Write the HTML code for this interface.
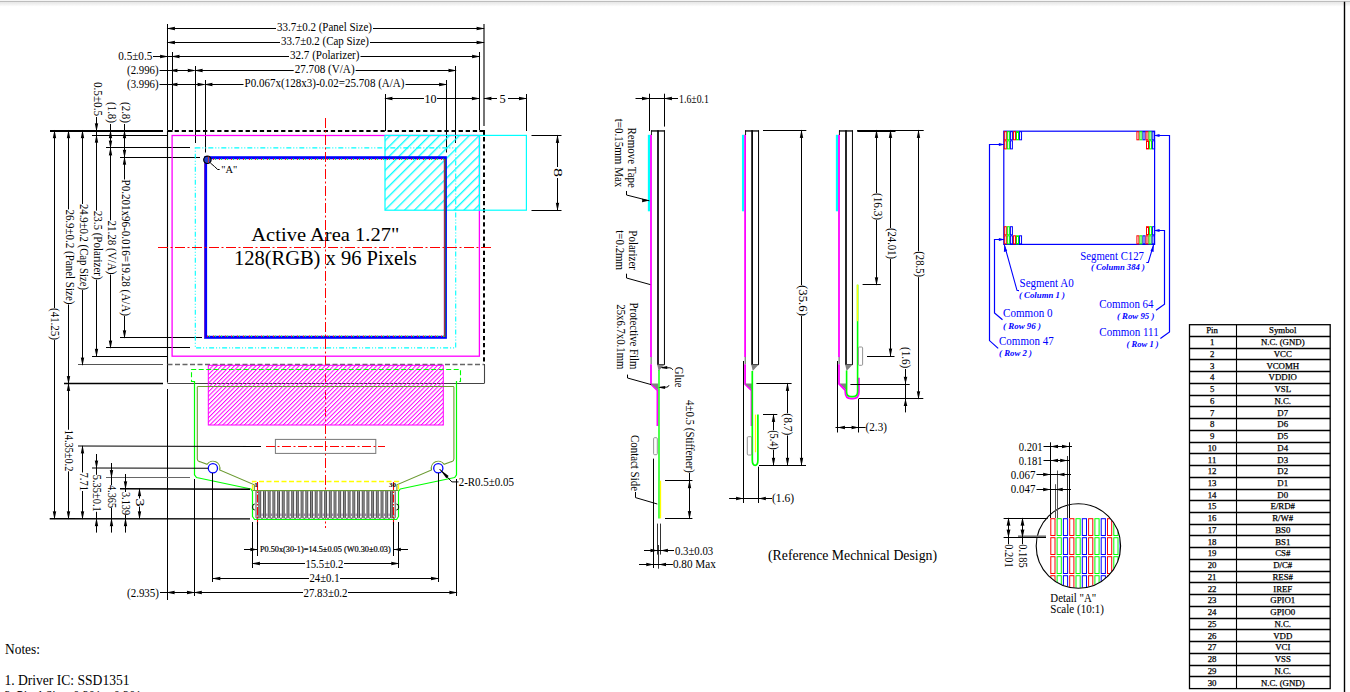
<!DOCTYPE html>
<html><head><meta charset="utf-8"><style>
html,body{margin:0;padding:0;background:#fff;width:1350px;height:692px;overflow:hidden}
svg{display:block;position:absolute;left:0;top:0}
</style></head><body>
<svg width="1350" height="692" viewBox="0 0 1350 692">
<defs>
<pattern id="hm" patternUnits="userSpaceOnUse" width="3.05" height="6" patternTransform="rotate(45)"><line x1="0.5" y1="0" x2="0.5" y2="6" stroke="#ff00ff" stroke-width="1.0"/></pattern>
<pattern id="hc" patternUnits="userSpaceOnUse" width="7" height="7" patternTransform="rotate(45)"><line x1="0.7" y1="0" x2="0.7" y2="7" stroke="#00ffff" stroke-width="1.3"/></pattern>
<clipPath id="detclip"><circle cx="1078.4" cy="546" r="42"/></clipPath>
</defs>
<defs><linearGradient id="tg" x1="0" y1="0" x2="0" y2="1"><stop offset="0" stop-color="#e6e6e6"/><stop offset="1" stop-color="#ffffff"/></linearGradient></defs>
<rect x="0" y="0" width="1350" height="1" fill="#f4f4f4"/>
<rect x="0" y="1" width="1350" height="1.2" fill="#bdbdbd"/>
<rect x="0" y="2.2" width="1350" height="4.5" fill="url(#tg)"/>
<line x1="1344.50" y1="1.80" x2="1344.50" y2="692.00" stroke="#000" stroke-width="1.4" stroke-linecap="butt"/>
<line x1="167.50" y1="24.00" x2="167.50" y2="130.00" stroke="#000" stroke-width="1.05" stroke-linecap="butt"/>
<line x1="484.00" y1="24.00" x2="484.00" y2="126.00" stroke="#000" stroke-width="1.1" stroke-linecap="butt"/>
<line x1="172.50" y1="52.00" x2="172.50" y2="130.00" stroke="#000" stroke-width="1.05" stroke-linecap="butt"/>
<line x1="479.50" y1="52.00" x2="479.50" y2="130.00" stroke="#000" stroke-width="1.05" stroke-linecap="butt"/>
<line x1="195.50" y1="66.00" x2="195.50" y2="143.00" stroke="#000" stroke-width="1.05" stroke-linecap="butt"/>
<line x1="455.50" y1="66.00" x2="455.50" y2="143.00" stroke="#000" stroke-width="1.05" stroke-linecap="butt"/>
<line x1="205.50" y1="80.00" x2="205.50" y2="152.50" stroke="#000" stroke-width="1.05" stroke-linecap="butt"/>
<line x1="446.50" y1="80.00" x2="446.50" y2="152.50" stroke="#000" stroke-width="1.05" stroke-linecap="butt"/>
<line x1="167.50" y1="28.50" x2="276.00" y2="28.50" stroke="#000" stroke-width="1.05" stroke-linecap="butt"/>
<line x1="373.00" y1="28.50" x2="484.00" y2="28.50" stroke="#000" stroke-width="1.05" stroke-linecap="butt"/>
<text x="324.50" y="30.90" font-family="Liberation Serif, serif" font-size="12.4" fill="#000" text-anchor="middle" textLength="95" lengthAdjust="spacingAndGlyphs">33.7±0.2 (Panel Size)</text>
<polygon points="166.50,28.50 175.00,26.80 174.75,28.50 175.00,30.20" fill="#000"/>
<polygon points="485.00,28.50 476.50,26.80 476.75,28.50 476.50,30.20" fill="#000"/>
<line x1="167.50" y1="42.50" x2="280.00" y2="42.50" stroke="#000" stroke-width="1.05" stroke-linecap="butt"/>
<line x1="370.00" y1="42.50" x2="484.00" y2="42.50" stroke="#000" stroke-width="1.05" stroke-linecap="butt"/>
<text x="325.00" y="44.90" font-family="Liberation Serif, serif" font-size="12.4" fill="#000" text-anchor="middle" textLength="88" lengthAdjust="spacingAndGlyphs">33.7±0.2 (Cap Size)</text>
<polygon points="166.50,42.50 175.00,40.80 174.75,42.50 175.00,44.20" fill="#000"/>
<polygon points="485.00,42.50 476.50,40.80 476.75,42.50 476.50,44.20" fill="#000"/>
<line x1="172.10" y1="56.50" x2="289.00" y2="56.50" stroke="#000" stroke-width="1.05" stroke-linecap="butt"/>
<line x1="360.50" y1="56.50" x2="479.50" y2="56.50" stroke="#000" stroke-width="1.05" stroke-linecap="butt"/>
<text x="324.75" y="58.90" font-family="Liberation Serif, serif" font-size="12.4" fill="#000" text-anchor="middle" textLength="69.5" lengthAdjust="spacingAndGlyphs">32.7 (Polarizer)</text>
<polygon points="171.10,56.50 179.60,54.80 179.34,56.50 179.60,58.20" fill="#000"/>
<polygon points="480.50,56.50 472.00,54.80 472.25,56.50 472.00,58.20" fill="#000"/>
<line x1="153.00" y1="56.50" x2="172.10" y2="56.50" stroke="#000" stroke-width="1.05" stroke-linecap="butt"/>
<polygon points="168.50,56.50 160.00,54.80 160.25,56.50 160.00,58.20" fill="#000"/>
<text x="135.30" y="60.20" font-family="Liberation Serif, serif" font-size="12.4" fill="#000" text-anchor="middle" textLength="34" lengthAdjust="spacingAndGlyphs">0.5±0.5</text>
<line x1="195.20" y1="70.50" x2="293.70" y2="70.50" stroke="#000" stroke-width="1.05" stroke-linecap="butt"/>
<line x1="355.60" y1="70.50" x2="455.90" y2="70.50" stroke="#000" stroke-width="1.05" stroke-linecap="butt"/>
<text x="324.65" y="72.90" font-family="Liberation Serif, serif" font-size="12.4" fill="#000" text-anchor="middle" textLength="59.900000000000034" lengthAdjust="spacingAndGlyphs">27.708 (V/A)</text>
<polygon points="194.20,70.50 202.70,68.80 202.44,70.50 202.70,72.20" fill="#000"/>
<polygon points="456.90,70.50 448.40,68.80 448.65,70.50 448.40,72.20" fill="#000"/>
<line x1="159.50" y1="70.50" x2="188.20" y2="70.50" stroke="#000" stroke-width="1.05" stroke-linecap="butt"/>
<polygon points="169.00,70.50 177.50,68.80 177.25,70.50 177.50,72.20" fill="#000"/>
<polygon points="196.20,70.50 187.70,68.80 187.95,70.50 187.70,72.20" fill="#000"/>
<text x="142.80" y="74.20" font-family="Liberation Serif, serif" font-size="12.4" fill="#000" text-anchor="middle" textLength="31.5" lengthAdjust="spacingAndGlyphs">(2.996)</text>
<line x1="205.00" y1="84.50" x2="243.50" y2="84.50" stroke="#000" stroke-width="1.05" stroke-linecap="butt"/>
<line x1="405.50" y1="84.50" x2="446.50" y2="84.50" stroke="#000" stroke-width="1.05" stroke-linecap="butt"/>
<text x="324.50" y="86.90" font-family="Liberation Serif, serif" font-size="12.4" fill="#000" text-anchor="middle" textLength="160.0" lengthAdjust="spacingAndGlyphs">P0.067x(128x3)-0.02=25.708 (A/A)</text>
<polygon points="204.00,84.50 212.50,82.80 212.25,84.50 212.50,86.20" fill="#000"/>
<polygon points="447.50,84.50 439.00,82.80 439.25,84.50 439.00,86.20" fill="#000"/>
<line x1="159.50" y1="84.50" x2="198.00" y2="84.50" stroke="#000" stroke-width="1.05" stroke-linecap="butt"/>
<polygon points="169.00,84.50 177.50,82.80 177.25,84.50 177.50,86.20" fill="#000"/>
<polygon points="206.00,84.50 197.50,82.80 197.75,84.50 197.50,86.20" fill="#000"/>
<text x="142.80" y="88.20" font-family="Liberation Serif, serif" font-size="12.4" fill="#000" text-anchor="middle" textLength="31.5" lengthAdjust="spacingAndGlyphs">(3.996)</text>
<line x1="50.00" y1="131.00" x2="163.00" y2="131.00" stroke="#000" stroke-width="1.8" stroke-linecap="butt"/>
<line x1="92.00" y1="135.50" x2="167.00" y2="135.50" stroke="#000" stroke-width="1.05" stroke-linecap="butt"/>
<line x1="106.00" y1="147.50" x2="190.00" y2="147.50" stroke="#000" stroke-width="1.05" stroke-linecap="butt"/>
<line x1="120.00" y1="157.50" x2="200.00" y2="157.50" stroke="#000" stroke-width="1.05" stroke-linecap="butt"/>
<line x1="120.00" y1="337.50" x2="202.00" y2="337.50" stroke="#000" stroke-width="1.05" stroke-linecap="butt"/>
<line x1="106.00" y1="347.50" x2="190.00" y2="347.50" stroke="#000" stroke-width="1.05" stroke-linecap="butt"/>
<line x1="92.00" y1="356.50" x2="167.00" y2="356.50" stroke="#000" stroke-width="1.05" stroke-linecap="butt"/>
<line x1="78.00" y1="364.50" x2="163.00" y2="364.50" stroke="#555" stroke-width="1.05" stroke-linecap="butt"/>
<line x1="64.00" y1="383.50" x2="163.00" y2="383.50" stroke="#000" stroke-width="1.3" stroke-linecap="butt"/>
<line x1="54.50" y1="130.70" x2="54.50" y2="308.00" stroke="#000" stroke-width="1.05" stroke-linecap="butt"/>
<line x1="54.50" y1="340.00" x2="54.50" y2="518.70" stroke="#000" stroke-width="1.05" stroke-linecap="butt"/>
<polygon points="54.50,129.70 52.80,138.20 54.50,137.94 56.20,138.20" fill="#000"/>
<polygon points="54.50,519.70 52.80,511.20 54.50,511.46 56.20,511.20" fill="#000"/>
<text x="0" y="0" font-family="Liberation Serif, serif" font-size="12.4" text-anchor="middle" textLength="32.0" lengthAdjust="spacingAndGlyphs" transform="translate(54.60 324.00) rotate(90) translate(0 3.3)">(41.25)</text>
<line x1="68.50" y1="130.70" x2="68.50" y2="209.40" stroke="#000" stroke-width="1.05" stroke-linecap="butt"/>
<line x1="68.50" y1="304.40" x2="68.50" y2="383.60" stroke="#000" stroke-width="1.05" stroke-linecap="butt"/>
<polygon points="68.50,129.70 66.80,138.20 68.50,137.94 70.20,138.20" fill="#000"/>
<polygon points="68.50,384.60 66.80,376.10 68.50,376.36 70.20,376.10" fill="#000"/>
<text x="0" y="0" font-family="Liberation Serif, serif" font-size="12.4" text-anchor="middle" textLength="95.0" lengthAdjust="spacingAndGlyphs" transform="translate(68.90 256.90) rotate(90) translate(0 3.3)">26.9±0.2 (Panel Size)</text>
<line x1="82.50" y1="130.70" x2="82.50" y2="204.00" stroke="#000" stroke-width="1.05" stroke-linecap="butt"/>
<line x1="82.50" y1="290.00" x2="82.50" y2="364.90" stroke="#000" stroke-width="1.05" stroke-linecap="butt"/>
<polygon points="82.50,129.70 80.80,138.20 82.50,137.94 84.20,138.20" fill="#000"/>
<polygon points="82.50,365.90 80.80,357.40 82.50,357.65 84.20,357.40" fill="#000"/>
<text x="0" y="0" font-family="Liberation Serif, serif" font-size="12.4" text-anchor="middle" textLength="86.0" lengthAdjust="spacingAndGlyphs" transform="translate(83.20 247.00) rotate(90) translate(0 3.3)">24.9±0.2 (Cap Size)</text>
<line x1="96.50" y1="117.00" x2="96.50" y2="210.70" stroke="#000" stroke-width="1.05" stroke-linecap="butt"/>
<line x1="96.50" y1="279.70" x2="96.50" y2="356.30" stroke="#000" stroke-width="1.05" stroke-linecap="butt"/>
<polygon points="96.50,131.70 94.80,123.20 96.50,123.45 98.20,123.20" fill="#000"/>
<polygon points="96.50,134.30 94.80,142.80 96.50,142.55 98.20,142.80" fill="#000"/>
<polygon points="96.50,357.30 94.80,348.80 96.50,349.06 98.20,348.80" fill="#000"/>
<text x="0" y="0" font-family="Liberation Serif, serif" font-size="12.4" text-anchor="middle" textLength="34.0" lengthAdjust="spacingAndGlyphs" transform="translate(97.30 99.00) rotate(90) translate(0 3.3)">0.5±0.5</text>
<text x="0" y="0" font-family="Liberation Serif, serif" font-size="12.4" text-anchor="middle" textLength="69.0" lengthAdjust="spacingAndGlyphs" transform="translate(97.50 245.20) rotate(90) translate(0 3.3)">23.5 (Polarizer)</text>
<line x1="110.50" y1="124.00" x2="110.50" y2="220.40" stroke="#000" stroke-width="1.05" stroke-linecap="butt"/>
<line x1="110.50" y1="274.50" x2="110.50" y2="347.90" stroke="#000" stroke-width="1.05" stroke-linecap="butt"/>
<polygon points="110.50,129.70 108.80,138.20 110.50,137.94 112.20,138.20" fill="#000"/>
<polygon points="110.50,148.90 108.80,140.40 110.50,140.66 112.20,140.40" fill="#000"/>
<polygon points="110.50,146.90 108.80,155.40 110.50,155.15 112.20,155.40" fill="#000"/>
<polygon points="110.50,348.90 108.80,340.40 110.50,340.65 112.20,340.40" fill="#000"/>
<text x="0" y="0" font-family="Liberation Serif, serif" font-size="12.4" text-anchor="middle" textLength="21.0" lengthAdjust="spacingAndGlyphs" transform="translate(111.20 112.50) rotate(90) translate(0 3.3)">(1.8)</text>
<text x="0" y="0" font-family="Liberation Serif, serif" font-size="12.4" text-anchor="middle" textLength="54.1" lengthAdjust="spacingAndGlyphs" transform="translate(111.30 247.45) rotate(90) translate(0 3.3)">21.28 (V/A)</text>
<line x1="124.50" y1="124.00" x2="124.50" y2="179.50" stroke="#000" stroke-width="1.05" stroke-linecap="butt"/>
<line x1="124.50" y1="316.00" x2="124.50" y2="337.80" stroke="#000" stroke-width="1.05" stroke-linecap="butt"/>
<polygon points="124.50,129.70 122.80,138.20 124.50,137.94 126.20,138.20" fill="#000"/>
<polygon points="124.50,158.20 122.80,149.70 124.50,149.95 126.20,149.70" fill="#000"/>
<polygon points="124.50,156.20 122.80,164.70 124.50,164.44 126.20,164.70" fill="#000"/>
<polygon points="124.50,338.80 122.80,330.30 124.50,330.56 126.20,330.30" fill="#000"/>
<text x="0" y="0" font-family="Liberation Serif, serif" font-size="12.4" text-anchor="middle" textLength="21.0" lengthAdjust="spacingAndGlyphs" transform="translate(125.10 112.50) rotate(90) translate(0 3.3)">(2.8)</text>
<text x="0" y="0" font-family="Liberation Serif, serif" font-size="12.4" text-anchor="middle" textLength="136.5" lengthAdjust="spacingAndGlyphs" transform="translate(125.60 247.75) rotate(90) translate(0 3.3)">P0.201x96-0.016=19.28 (A/A)</text>
<line x1="167.50" y1="131.00" x2="484.00" y2="131.00" stroke="#000" stroke-width="2.0" stroke-dasharray="4.3 2.8" stroke-linecap="butt"/>
<line x1="167.50" y1="131.00" x2="172.60" y2="131.00" stroke="#000" stroke-width="2.0" stroke-linecap="butt"/>
<line x1="167.50" y1="130.70" x2="167.50" y2="382.60" stroke="#000" stroke-width="1.1" stroke-linecap="butt"/>
<line x1="484.00" y1="130.00" x2="484.00" y2="364.90" stroke="#000" stroke-width="2.0" stroke-dasharray="4.3 2.8" stroke-linecap="butt"/>
<line x1="479.50" y1="131.00" x2="484.00" y2="131.00" stroke="#000" stroke-width="2.0" stroke-linecap="butt"/>
<line x1="484.00" y1="130.00" x2="484.00" y2="135.00" stroke="#000" stroke-width="2.0" stroke-linecap="butt"/>
<line x1="167.50" y1="364.50" x2="484.00" y2="364.50" stroke="#666" stroke-width="1.3" stroke-dasharray="5 2.5" stroke-linecap="butt"/>
<line x1="484.50" y1="364.90" x2="484.50" y2="383.60" stroke="#444" stroke-width="1.1" stroke-linecap="butt"/>
<line x1="167.50" y1="383.50" x2="484.00" y2="383.50" stroke="#444" stroke-width="1.1" stroke-linecap="butt"/>
<line x1="167.50" y1="389.00" x2="167.50" y2="600.00" stroke="#000" stroke-width="1.05" stroke-linecap="butt"/>
<rect x="172.1" y="135.5" width="307.3" height="220.7" fill="none" stroke="#ff00ff" stroke-width="1.3"/>
<rect x="195.3" y="147.9" width="260.4" height="200.0" fill="none" stroke="#00ffff" stroke-width="1.1" stroke-dasharray="5 2 1 2 1 2"/>
<rect x="385" y="135.4" width="94.3" height="74.8" fill="url(#hc)"/>
<rect x="385" y="135.4" width="141.4" height="74.8" fill="none" stroke="#00ffff" stroke-width="1.2"/>
<line x1="479.50" y1="135.40" x2="479.50" y2="210.20" stroke="#00ffff" stroke-width="1.2" stroke-linecap="butt"/>
<rect x="205.6" y="157.7" width="239.8" height="179.6" fill="none" stroke="#0000ff" stroke-width="3"/>
<line x1="207" y1="159.2" x2="444" y2="159.2" stroke="#ff2020" stroke-width="1.4" stroke-dasharray="1 5"/>
<line x1="209" y1="159.2" x2="444" y2="159.2" stroke="#20ff20" stroke-width="1.4" stroke-dasharray="1 5"/>
<line x1="207" y1="336.3" x2="444" y2="336.3" stroke="#ff2020" stroke-width="1.4" stroke-dasharray="1 5"/>
<line x1="209" y1="336.3" x2="444" y2="336.3" stroke="#20ff20" stroke-width="1.4" stroke-dasharray="1 5"/>
<line x1="444.4" y1="159" x2="444.4" y2="337" stroke="#ff2020" stroke-width="0.9"/>
<line x1="445.3" y1="159" x2="445.3" y2="337" stroke="#208040" stroke-width="0.9"/>
<line x1="204.6" y1="157" x2="204.6" y2="338" stroke="#8020c0" stroke-width="0.9"/>
<line x1="325.50" y1="118.00" x2="325.50" y2="528.00" stroke="#ff0000" stroke-width="1" stroke-dasharray="10 2.5 2 2.5" stroke-linecap="butt"/>
<line x1="158.00" y1="247.50" x2="492.00" y2="247.50" stroke="#ff0000" stroke-width="1" stroke-dasharray="10 2.5 2 2.5" stroke-linecap="butt"/>
<circle cx="207.4" cy="159.8" r="3.7" fill="#2040d0" stroke="#000" stroke-width="1.2"/>
<line x1="208.4" y1="156.5" x2="208.4" y2="163" stroke="#e03020" stroke-width="0.9"/>
<polyline points="210.30,162.90 214.60,166.60 217.70,169.50 219.60,169.50" stroke="#000" stroke-width="1" fill="none" stroke-linejoin="miter"/>
<text x="221.20" y="172.70" font-family="Liberation Serif, serif" font-size="10" fill="#000" text-anchor="start" textLength="16" lengthAdjust="spacingAndGlyphs">&quot;A&quot;</text>
<text x="325.30" y="240.60" font-family="Liberation Serif, serif" font-size="19.5" fill="#000" text-anchor="middle" textLength="148" lengthAdjust="spacingAndGlyphs">Active Area 1.27&quot;</text>
<text x="325.30" y="265.00" font-family="Liberation Serif, serif" font-size="20" fill="#000" text-anchor="middle" textLength="182.8" lengthAdjust="spacingAndGlyphs">128(RGB) x 96 Pixels</text>
<line x1="385.50" y1="94.00" x2="385.50" y2="131.00" stroke="#000" stroke-width="1.05" stroke-linecap="butt"/>
<line x1="526.50" y1="94.00" x2="526.50" y2="131.00" stroke="#000" stroke-width="1.05" stroke-linecap="butt"/>
<line x1="385.00" y1="98.50" x2="424.00" y2="98.50" stroke="#000" stroke-width="1.05" stroke-linecap="butt"/>
<line x1="437.00" y1="98.50" x2="479.30" y2="98.50" stroke="#000" stroke-width="1.05" stroke-linecap="butt"/>
<polygon points="384.00,98.50 392.50,96.80 392.25,98.50 392.50,100.20" fill="#000"/>
<polygon points="480.30,98.50 471.80,96.80 472.06,98.50 471.80,100.20" fill="#000"/>
<text x="430.50" y="102.70" font-family="Liberation Serif, serif" font-size="12.4" fill="#000" text-anchor="middle" textLength="12" lengthAdjust="spacingAndGlyphs">10</text>
<line x1="484.00" y1="98.50" x2="497.00" y2="98.50" stroke="#000" stroke-width="1.05" stroke-linecap="butt"/>
<line x1="508.00" y1="98.50" x2="526.40" y2="98.50" stroke="#000" stroke-width="1.05" stroke-linecap="butt"/>
<polygon points="483.00,98.50 491.50,96.80 491.25,98.50 491.50,100.20" fill="#000"/>
<polygon points="527.40,98.50 518.90,96.80 519.15,98.50 518.90,100.20" fill="#000"/>
<text x="502.50" y="102.70" font-family="Liberation Serif, serif" font-size="12.4" fill="#000" text-anchor="middle">5</text>
<line x1="531.50" y1="135.50" x2="561.50" y2="135.50" stroke="#000" stroke-width="1.05" stroke-linecap="butt"/>
<line x1="531.50" y1="210.50" x2="561.50" y2="210.50" stroke="#000" stroke-width="1.05" stroke-linecap="butt"/>
<line x1="557.50" y1="135.40" x2="557.50" y2="167.00" stroke="#000" stroke-width="1.05" stroke-linecap="butt"/>
<line x1="557.50" y1="178.00" x2="557.50" y2="210.20" stroke="#000" stroke-width="1.05" stroke-linecap="butt"/>
<polygon points="557.50,134.40 555.80,142.90 557.50,142.65 559.20,142.90" fill="#000"/>
<polygon points="557.50,211.20 555.80,202.70 557.50,202.95 559.20,202.70" fill="#000"/>
<text x="0" y="0" font-family="Liberation Serif, serif" font-size="12.4" text-anchor="middle" textLength="9.0" lengthAdjust="spacingAndGlyphs" transform="translate(557.60 172.50) rotate(90) translate(0 3.3)">8</text>
<rect x="208" y="365" width="235.3" height="60.1" fill="url(#hm)"/>
<rect x="208.3" y="365.3" width="235" height="59.7" fill="none" stroke="#ff00ff" stroke-width="1.0"/>
<polyline points="194.80,381.50 191.50,381.50 191.50,369.50 460.50,369.50 460.50,381.50 456.30,381.50" stroke="#00ff00" stroke-width="1.1" fill="none" stroke-dasharray="5 2.5" stroke-linejoin="miter"/>
<polyline points="194.50,381.00 194.50,474.80 196.50,477.50 251.00,489.00 252.50,491.50 252.50,516.50 254.60,519.50 396.60,519.50 398.50,516.50 398.50,491.50 400.20,489.00 454.70,477.50 456.50,474.80 456.50,381.00" stroke="#00ff00" stroke-width="1.2" fill="none" stroke-linejoin="round"/>
<line x1="197.30" y1="386.50" x2="453.90" y2="386.50" stroke="#6a9a30" stroke-width="1.1" stroke-linecap="butt"/>
<path d="M197.3,386.8 L197.3,458.9 Q197.4,461.2 199.5,461.6 L207.1,464.3 A7,7 0 0 1 219.7,469.9 L254.3,484.8 L254.3,490" stroke="#6a9a30" stroke-width="1.1" fill="none"/>
<path d="M453.90,386.8 L453.90,458.9 Q453.80,461.2 451.70,461.6 L444.10,464.3 A7,7 0 0 0 431.50,469.9 L396.90,484.8 L396.90,490" stroke="#6a9a30" stroke-width="1.1" fill="none"/>
<circle cx="212.9" cy="468.2" r="4.6" fill="#fff" stroke="#0000ff" stroke-width="1.3"/>
<circle cx="438.30" cy="468.2" r="4.6" fill="#fff" stroke="#0000ff" stroke-width="1.3"/>
<rect x="275.4" y="439.4" width="100.4" height="14" fill="none" stroke="#777" stroke-width="1"/>
<line x1="266.00" y1="446.50" x2="385.00" y2="446.50" stroke="#ff0000" stroke-width="1" stroke-dasharray="9 2.5 2 2.5" stroke-linecap="butt"/>
<polyline points="252.50,490.00 252.50,481.50 398.50,481.50 398.50,490.00" stroke="#ffff00" stroke-width="1.3" fill="none" stroke-dasharray="5 2.5" stroke-linejoin="miter"/>
<rect x="259.15" y="490.6" width="1.2" height="28" fill="#9a9a9a"/>
<rect x="256.00" y="490.7" width="2.8" height="27.6" rx="0.9" fill="#fff" stroke="#000" stroke-width="0.7"/>
<rect x="256.80" y="513.5" width="1.2" height="2.5" fill="#5a2a6a" opacity="0.6"/>
<rect x="263.85" y="490.6" width="1.2" height="28" fill="#9a9a9a"/>
<rect x="260.70" y="490.7" width="2.8" height="27.6" rx="0.9" fill="#fff" stroke="#000" stroke-width="0.7"/>
<rect x="261.50" y="513.5" width="1.2" height="2.5" fill="#5a2a6a" opacity="0.6"/>
<rect x="268.56" y="490.6" width="1.2" height="28" fill="#9a9a9a"/>
<rect x="265.41" y="490.7" width="2.8" height="27.6" rx="0.9" fill="#fff" stroke="#000" stroke-width="0.7"/>
<rect x="266.21" y="513.5" width="1.2" height="2.5" fill="#5a2a6a" opacity="0.6"/>
<rect x="273.26" y="490.6" width="1.2" height="28" fill="#9a9a9a"/>
<rect x="270.11" y="490.7" width="2.8" height="27.6" rx="0.9" fill="#fff" stroke="#000" stroke-width="0.7"/>
<rect x="270.91" y="513.5" width="1.2" height="2.5" fill="#5a2a6a" opacity="0.6"/>
<rect x="277.96" y="490.6" width="1.2" height="28" fill="#9a9a9a"/>
<rect x="274.81" y="490.7" width="2.8" height="27.6" rx="0.9" fill="#fff" stroke="#000" stroke-width="0.7"/>
<rect x="275.61" y="513.5" width="1.2" height="2.5" fill="#5a2a6a" opacity="0.6"/>
<rect x="282.66" y="490.6" width="1.2" height="28" fill="#9a9a9a"/>
<rect x="279.51" y="490.7" width="2.8" height="27.6" rx="0.9" fill="#fff" stroke="#000" stroke-width="0.7"/>
<rect x="280.31" y="513.5" width="1.2" height="2.5" fill="#5a2a6a" opacity="0.6"/>
<rect x="287.37" y="490.6" width="1.2" height="28" fill="#9a9a9a"/>
<rect x="284.22" y="490.7" width="2.8" height="27.6" rx="0.9" fill="#fff" stroke="#000" stroke-width="0.7"/>
<rect x="285.02" y="513.5" width="1.2" height="2.5" fill="#5a2a6a" opacity="0.6"/>
<rect x="292.07" y="490.6" width="1.2" height="28" fill="#9a9a9a"/>
<rect x="288.92" y="490.7" width="2.8" height="27.6" rx="0.9" fill="#fff" stroke="#000" stroke-width="0.7"/>
<rect x="289.72" y="513.5" width="1.2" height="2.5" fill="#5a2a6a" opacity="0.6"/>
<rect x="296.77" y="490.6" width="1.2" height="28" fill="#9a9a9a"/>
<rect x="293.62" y="490.7" width="2.8" height="27.6" rx="0.9" fill="#fff" stroke="#000" stroke-width="0.7"/>
<rect x="294.42" y="513.5" width="1.2" height="2.5" fill="#5a2a6a" opacity="0.6"/>
<rect x="301.48" y="490.6" width="1.2" height="28" fill="#9a9a9a"/>
<rect x="298.33" y="490.7" width="2.8" height="27.6" rx="0.9" fill="#fff" stroke="#000" stroke-width="0.7"/>
<rect x="299.13" y="513.5" width="1.2" height="2.5" fill="#5a2a6a" opacity="0.6"/>
<rect x="306.18" y="490.6" width="1.2" height="28" fill="#9a9a9a"/>
<rect x="303.03" y="490.7" width="2.8" height="27.6" rx="0.9" fill="#fff" stroke="#000" stroke-width="0.7"/>
<rect x="303.83" y="513.5" width="1.2" height="2.5" fill="#5a2a6a" opacity="0.6"/>
<rect x="310.88" y="490.6" width="1.2" height="28" fill="#9a9a9a"/>
<rect x="307.73" y="490.7" width="2.8" height="27.6" rx="0.9" fill="#fff" stroke="#000" stroke-width="0.7"/>
<rect x="308.53" y="513.5" width="1.2" height="2.5" fill="#5a2a6a" opacity="0.6"/>
<rect x="315.59" y="490.6" width="1.2" height="28" fill="#9a9a9a"/>
<rect x="312.44" y="490.7" width="2.8" height="27.6" rx="0.9" fill="#fff" stroke="#000" stroke-width="0.7"/>
<rect x="313.24" y="513.5" width="1.2" height="2.5" fill="#5a2a6a" opacity="0.6"/>
<rect x="320.29" y="490.6" width="1.2" height="28" fill="#9a9a9a"/>
<rect x="317.14" y="490.7" width="2.8" height="27.6" rx="0.9" fill="#fff" stroke="#000" stroke-width="0.7"/>
<rect x="317.94" y="513.5" width="1.2" height="2.5" fill="#5a2a6a" opacity="0.6"/>
<rect x="324.99" y="490.6" width="1.2" height="28" fill="#9a9a9a"/>
<rect x="321.84" y="490.7" width="2.8" height="27.6" rx="0.9" fill="#fff" stroke="#000" stroke-width="0.7"/>
<rect x="322.64" y="513.5" width="1.2" height="2.5" fill="#5a2a6a" opacity="0.6"/>
<rect x="329.69" y="490.6" width="1.2" height="28" fill="#9a9a9a"/>
<rect x="326.55" y="490.7" width="2.8" height="27.6" rx="0.9" fill="#fff" stroke="#000" stroke-width="0.7"/>
<rect x="327.34" y="513.5" width="1.2" height="2.5" fill="#5a2a6a" opacity="0.6"/>
<rect x="334.40" y="490.6" width="1.2" height="28" fill="#9a9a9a"/>
<rect x="331.25" y="490.7" width="2.8" height="27.6" rx="0.9" fill="#fff" stroke="#000" stroke-width="0.7"/>
<rect x="332.05" y="513.5" width="1.2" height="2.5" fill="#5a2a6a" opacity="0.6"/>
<rect x="339.10" y="490.6" width="1.2" height="28" fill="#9a9a9a"/>
<rect x="335.95" y="490.7" width="2.8" height="27.6" rx="0.9" fill="#fff" stroke="#000" stroke-width="0.7"/>
<rect x="336.75" y="513.5" width="1.2" height="2.5" fill="#5a2a6a" opacity="0.6"/>
<rect x="343.80" y="490.6" width="1.2" height="28" fill="#9a9a9a"/>
<rect x="340.65" y="490.7" width="2.8" height="27.6" rx="0.9" fill="#fff" stroke="#000" stroke-width="0.7"/>
<rect x="341.45" y="513.5" width="1.2" height="2.5" fill="#5a2a6a" opacity="0.6"/>
<rect x="348.51" y="490.6" width="1.2" height="28" fill="#9a9a9a"/>
<rect x="345.36" y="490.7" width="2.8" height="27.6" rx="0.9" fill="#fff" stroke="#000" stroke-width="0.7"/>
<rect x="346.16" y="513.5" width="1.2" height="2.5" fill="#5a2a6a" opacity="0.6"/>
<rect x="353.21" y="490.6" width="1.2" height="28" fill="#9a9a9a"/>
<rect x="350.06" y="490.7" width="2.8" height="27.6" rx="0.9" fill="#fff" stroke="#000" stroke-width="0.7"/>
<rect x="350.86" y="513.5" width="1.2" height="2.5" fill="#5a2a6a" opacity="0.6"/>
<rect x="357.91" y="490.6" width="1.2" height="28" fill="#9a9a9a"/>
<rect x="354.76" y="490.7" width="2.8" height="27.6" rx="0.9" fill="#fff" stroke="#000" stroke-width="0.7"/>
<rect x="355.56" y="513.5" width="1.2" height="2.5" fill="#5a2a6a" opacity="0.6"/>
<rect x="362.62" y="490.6" width="1.2" height="28" fill="#9a9a9a"/>
<rect x="359.47" y="490.7" width="2.8" height="27.6" rx="0.9" fill="#fff" stroke="#000" stroke-width="0.7"/>
<rect x="360.27" y="513.5" width="1.2" height="2.5" fill="#5a2a6a" opacity="0.6"/>
<rect x="367.32" y="490.6" width="1.2" height="28" fill="#9a9a9a"/>
<rect x="364.17" y="490.7" width="2.8" height="27.6" rx="0.9" fill="#fff" stroke="#000" stroke-width="0.7"/>
<rect x="364.97" y="513.5" width="1.2" height="2.5" fill="#5a2a6a" opacity="0.6"/>
<rect x="372.02" y="490.6" width="1.2" height="28" fill="#9a9a9a"/>
<rect x="368.87" y="490.7" width="2.8" height="27.6" rx="0.9" fill="#fff" stroke="#000" stroke-width="0.7"/>
<rect x="369.67" y="513.5" width="1.2" height="2.5" fill="#5a2a6a" opacity="0.6"/>
<rect x="376.72" y="490.6" width="1.2" height="28" fill="#9a9a9a"/>
<rect x="373.57" y="490.7" width="2.8" height="27.6" rx="0.9" fill="#fff" stroke="#000" stroke-width="0.7"/>
<rect x="374.37" y="513.5" width="1.2" height="2.5" fill="#5a2a6a" opacity="0.6"/>
<rect x="381.43" y="490.6" width="1.2" height="28" fill="#9a9a9a"/>
<rect x="378.28" y="490.7" width="2.8" height="27.6" rx="0.9" fill="#fff" stroke="#000" stroke-width="0.7"/>
<rect x="379.08" y="513.5" width="1.2" height="2.5" fill="#5a2a6a" opacity="0.6"/>
<rect x="386.13" y="490.6" width="1.2" height="28" fill="#9a9a9a"/>
<rect x="382.98" y="490.7" width="2.8" height="27.6" rx="0.9" fill="#fff" stroke="#000" stroke-width="0.7"/>
<rect x="383.78" y="513.5" width="1.2" height="2.5" fill="#5a2a6a" opacity="0.6"/>
<rect x="390.83" y="490.6" width="1.2" height="28" fill="#9a9a9a"/>
<rect x="387.68" y="490.7" width="2.8" height="27.6" rx="0.9" fill="#fff" stroke="#000" stroke-width="0.7"/>
<rect x="388.48" y="513.5" width="1.2" height="2.5" fill="#5a2a6a" opacity="0.6"/>
<rect x="392.39" y="490.7" width="2.8" height="27.6" rx="0.9" fill="#fff" stroke="#000" stroke-width="0.7"/>
<rect x="393.19" y="513.5" width="1.2" height="2.5" fill="#5a2a6a" opacity="0.6"/>
<line x1="254.60" y1="519.50" x2="396.60" y2="519.50" stroke="#00ff00" stroke-width="1.2" stroke-linecap="butt"/>
<line x1="252.60" y1="490.50" x2="398.60" y2="490.50" stroke="#6a9a30" stroke-width="1" stroke-linecap="butt"/>
<path d="M254.8,504 Q252.5,504 252.5,507 Q252.5,510 254.8,510" stroke="#000" stroke-width="0.9" fill="none"/>
<path d="M396.4,504 Q398.7,504 398.7,507 Q398.7,510 396.4,510" stroke="#000" stroke-width="0.9" fill="none"/>
<line x1="257.50" y1="482.00" x2="257.50" y2="525.00" stroke="#ff0000" stroke-width="1.1" stroke-dasharray="8 1.5 1.5 1.5" stroke-linecap="butt"/>
<line x1="393.50" y1="482.00" x2="393.50" y2="525.00" stroke="#ff0000" stroke-width="1.1" stroke-dasharray="8 1.5 1.5 1.5" stroke-linecap="butt"/>
<text x="256.00" y="487.00" font-family="Liberation Serif, serif" font-size="7" fill="#000" text-anchor="middle" font-weight="bold">1</text>
<text x="392.50" y="487.00" font-family="Liberation Serif, serif" font-size="7" fill="#000" text-anchor="middle" font-weight="bold">30</text>
<line x1="167.50" y1="389.00" x2="167.50" y2="600.00" stroke="#000" stroke-width="1.05" stroke-linecap="butt"/>
<line x1="78.00" y1="446.00" x2="261.00" y2="446.50" stroke="#000" stroke-width="1.05" stroke-linecap="butt"/>
<line x1="92.00" y1="468.00" x2="208.00" y2="468.20" stroke="#000" stroke-width="1.05" stroke-linecap="butt"/>
<line x1="106.00" y1="477.50" x2="190.00" y2="477.50" stroke="#666" stroke-width="1.05" stroke-linecap="butt"/>
<line x1="194.50" y1="479.00" x2="194.50" y2="596.00" stroke="#000" stroke-width="1.05" stroke-linecap="butt"/>
<line x1="120.00" y1="488.70" x2="250.00" y2="489.20" stroke="#000" stroke-width="1.4" stroke-linecap="butt"/>
<line x1="49.70" y1="518.70" x2="250.00" y2="518.90" stroke="#000" stroke-width="1.4" stroke-linecap="butt"/>
<line x1="212.50" y1="473.00" x2="212.50" y2="582.00" stroke="#000" stroke-width="1.05" stroke-linecap="butt"/>
<line x1="68.50" y1="383.60" x2="68.50" y2="429.70" stroke="#000" stroke-width="1.05" stroke-linecap="butt"/>
<line x1="68.50" y1="471.30" x2="68.50" y2="518.70" stroke="#000" stroke-width="1.05" stroke-linecap="butt"/>
<polygon points="68.50,382.60 66.80,391.10 68.50,390.85 70.20,391.10" fill="#000"/>
<polygon points="68.50,519.70 66.80,511.20 68.50,511.46 70.20,511.20" fill="#000"/>
<text x="0" y="0" font-family="Liberation Serif, serif" font-size="12.4" text-anchor="middle" textLength="41.6" lengthAdjust="spacingAndGlyphs" transform="translate(68.40 450.50) rotate(90) translate(0 3.3)">14.35±0.2</text>
<line x1="82.50" y1="446.00" x2="82.50" y2="472.50" stroke="#000" stroke-width="1.05" stroke-linecap="butt"/>
<line x1="82.50" y1="491.00" x2="82.50" y2="518.70" stroke="#000" stroke-width="1.05" stroke-linecap="butt"/>
<polygon points="82.50,445.00 80.80,453.50 82.50,453.25 84.20,453.50" fill="#000"/>
<polygon points="82.50,519.70 80.80,511.20 82.50,511.46 84.20,511.20" fill="#000"/>
<text x="0" y="0" font-family="Liberation Serif, serif" font-size="12.4" text-anchor="middle" textLength="18.5" lengthAdjust="spacingAndGlyphs" transform="translate(82.80 481.75) rotate(90) translate(0 3.3)">7.71</text>
<line x1="96.50" y1="454.00" x2="96.50" y2="474.80" stroke="#000" stroke-width="1.05" stroke-linecap="butt"/>
<line x1="96.50" y1="511.80" x2="96.50" y2="532.60" stroke="#000" stroke-width="1.05" stroke-linecap="butt"/>
<polygon points="96.50,469.00 94.80,460.50 96.50,460.75 98.20,460.50" fill="#000"/>
<polygon points="96.50,517.70 94.80,526.20 96.50,525.95 98.20,526.20" fill="#000"/>
<text x="0" y="0" font-family="Liberation Serif, serif" font-size="12.4" text-anchor="middle" textLength="37.0" lengthAdjust="spacingAndGlyphs" transform="translate(96.60 493.30) rotate(90) translate(0 3.3)">5.35±0.1</text>
<line x1="111.50" y1="463.00" x2="111.50" y2="485.00" stroke="#000" stroke-width="1.05" stroke-linecap="butt"/>
<line x1="111.50" y1="508.00" x2="111.50" y2="532.60" stroke="#000" stroke-width="1.05" stroke-linecap="butt"/>
<polygon points="111.50,478.60 109.80,470.10 111.50,470.36 113.20,470.10" fill="#000"/>
<polygon points="111.50,517.70 109.80,526.20 111.50,525.95 113.20,526.20" fill="#000"/>
<text x="0" y="0" font-family="Liberation Serif, serif" font-size="12.4" text-anchor="middle" textLength="23.0" lengthAdjust="spacingAndGlyphs" transform="translate(111.00 496.50) rotate(90) translate(0 3.3)">4.365</text>
<line x1="125.50" y1="474.00" x2="125.50" y2="492.00" stroke="#000" stroke-width="1.05" stroke-linecap="butt"/>
<line x1="125.50" y1="515.00" x2="125.50" y2="532.60" stroke="#000" stroke-width="1.05" stroke-linecap="butt"/>
<polygon points="125.50,489.70 123.80,481.20 125.50,481.45 127.20,481.20" fill="#000"/>
<polygon points="125.50,517.70 123.80,526.20 125.50,525.95 127.20,526.20" fill="#000"/>
<text x="0" y="0" font-family="Liberation Serif, serif" font-size="12.4" text-anchor="middle" textLength="23.0" lengthAdjust="spacingAndGlyphs" transform="translate(125.10 503.50) rotate(90) translate(0 3.3)">3.139</text>
<line x1="139.50" y1="488.70" x2="139.50" y2="498.50" stroke="#000" stroke-width="1.05" stroke-linecap="butt"/>
<line x1="139.50" y1="506.50" x2="139.50" y2="518.70" stroke="#000" stroke-width="1.05" stroke-linecap="butt"/>
<polygon points="139.50,487.70 137.80,496.20 139.50,495.94 141.20,496.20" fill="#000"/>
<polygon points="139.50,519.70 137.80,511.20 139.50,511.46 141.20,511.20" fill="#000"/>
<text x="0" y="0" font-family="Liberation Serif, serif" font-size="12.4" text-anchor="middle" textLength="8.0" lengthAdjust="spacingAndGlyphs" transform="translate(139.40 502.50) rotate(90) translate(0 3.3)">3</text>
<line x1="252.50" y1="522.00" x2="252.50" y2="568.00" stroke="#000" stroke-width="1.05" stroke-linecap="butt"/>
<line x1="257.50" y1="522.00" x2="257.50" y2="556.00" stroke="#000" stroke-width="1.05" stroke-linecap="butt"/>
<line x1="393.50" y1="522.00" x2="393.50" y2="556.00" stroke="#000" stroke-width="1.05" stroke-linecap="butt"/>
<line x1="398.50" y1="522.00" x2="398.50" y2="568.00" stroke="#000" stroke-width="1.05" stroke-linecap="butt"/>
<line x1="456.50" y1="479.00" x2="456.50" y2="596.00" stroke="#000" stroke-width="1.05" stroke-linecap="butt"/>
<line x1="438.50" y1="473.00" x2="438.50" y2="582.00" stroke="#000" stroke-width="1.05" stroke-linecap="butt"/>
<line x1="244.00" y1="549.50" x2="257.30" y2="549.50" stroke="#000" stroke-width="1.05" stroke-linecap="butt"/>
<polygon points="257.30,549.50 250.30,547.80 250.51,549.50 250.30,551.20" fill="#000"/>
<text x="325.30" y="552.40" font-family="Liberation Serif, serif" font-size="8.6" fill="#000" text-anchor="middle" textLength="130.7" lengthAdjust="spacingAndGlyphs">P0.50x(30-1)=14.5±0.05 (W0.30±0.03)</text>
<text x="325.3" y="552.4" font-family="Liberation Serif, serif" font-size="8.6" fill="none" stroke="#000" stroke-width="0.2" text-anchor="middle" textLength="130.7" lengthAdjust="spacingAndGlyphs">P0.50x(30-1)=14.5±0.05 (W0.30±0.03)</text>
<line x1="393.90" y1="549.50" x2="408.00" y2="549.50" stroke="#000" stroke-width="1.05" stroke-linecap="butt"/>
<polygon points="393.90,549.50 400.90,547.80 400.69,549.50 400.90,551.20" fill="#000"/>
<line x1="252.50" y1="563.50" x2="305.00" y2="563.50" stroke="#000" stroke-width="1.05" stroke-linecap="butt"/>
<line x1="344.00" y1="563.50" x2="398.70" y2="563.50" stroke="#000" stroke-width="1.05" stroke-linecap="butt"/>
<polygon points="251.50,563.50 260.00,561.80 259.75,563.50 260.00,565.20" fill="#000"/>
<polygon points="399.70,563.50 391.20,561.80 391.45,563.50 391.20,565.20" fill="#000"/>
<text x="324.40" y="567.90" font-family="Liberation Serif, serif" font-size="12.4" fill="#000" text-anchor="middle" textLength="38" lengthAdjust="spacingAndGlyphs">15.5±0.2</text>
<line x1="212.90" y1="578.50" x2="309.00" y2="578.50" stroke="#000" stroke-width="1.05" stroke-linecap="butt"/>
<line x1="340.00" y1="578.50" x2="438.40" y2="578.50" stroke="#000" stroke-width="1.05" stroke-linecap="butt"/>
<polygon points="211.90,578.50 220.40,576.80 220.15,578.50 220.40,580.20" fill="#000"/>
<polygon points="439.40,578.50 430.90,576.80 431.15,578.50 430.90,580.20" fill="#000"/>
<text x="324.50" y="582.40" font-family="Liberation Serif, serif" font-size="12.4" fill="#000" text-anchor="middle" textLength="30" lengthAdjust="spacingAndGlyphs">24±0.1</text>
<line x1="160.00" y1="592.50" x2="303.00" y2="592.50" stroke="#000" stroke-width="1.05" stroke-linecap="butt"/>
<line x1="348.00" y1="592.50" x2="456.80" y2="592.50" stroke="#000" stroke-width="1.05" stroke-linecap="butt"/>
<polygon points="193.40,592.50 201.90,590.80 201.65,592.50 201.90,594.20" fill="#000"/>
<polygon points="457.80,592.50 449.30,590.80 449.56,592.50 449.30,594.20" fill="#000"/>
<polygon points="166.20,592.50 174.70,590.80 174.44,592.50 174.70,594.20" fill="#000"/>
<polygon points="195.40,592.50 186.90,590.80 187.16,592.50 186.90,594.20" fill="#000"/>
<text x="325.50" y="596.80" font-family="Liberation Serif, serif" font-size="12.4" fill="#000" text-anchor="middle" textLength="44" lengthAdjust="spacingAndGlyphs">27.83±0.2</text>
<text x="143.00" y="596.80" font-family="Liberation Serif, serif" font-size="12.4" fill="#000" text-anchor="middle" textLength="32" lengthAdjust="spacingAndGlyphs">(2.935)</text>
<polyline points="439.50,469.00 451.90,481.90 458.50,481.90" stroke="#000" stroke-width="1.0" fill="none" stroke-linejoin="miter"/>
<polygon points="440,469.5 446.35,478.3 448.65,476.1" fill="#000"/>
<text x="458.70" y="486.40" font-family="Liberation Serif, serif" font-size="12.4" fill="#000" text-anchor="start" textLength="55.3" lengthAdjust="spacingAndGlyphs">2-R0.5±0.05</text>
<text x="5.00" y="653.80" font-family="Liberation Serif, serif" font-size="14" fill="#000" text-anchor="start" textLength="35" lengthAdjust="spacingAndGlyphs">Notes:</text>
<text x="4.40" y="684.70" font-family="Liberation Serif, serif" font-size="14" fill="#000" text-anchor="start" textLength="125.2" lengthAdjust="spacingAndGlyphs">1. Driver IC: SSD1351</text>
<text x="4.40" y="700.60" font-family="Liberation Serif, serif" font-size="14" fill="#000" text-anchor="start" textLength="159.6" lengthAdjust="spacingAndGlyphs">2. Pixel Size: 0.201 x 0.201 mm</text>
<line x1="649.00" y1="134.80" x2="649.00" y2="211.30" stroke="#00ffff" stroke-width="2.3" stroke-linecap="butt"/>
<line x1="651.00" y1="134.80" x2="651.00" y2="356.90" stroke="#ff00ff" stroke-width="1.8" stroke-linecap="butt"/>
<line x1="651.10" y1="356.90" x2="651.10" y2="364.20" stroke="#555" stroke-width="1" stroke-linecap="butt"/>
<polyline points="651.00,364.20 651.00,384.00 657.40,390.30 657.40,426.00" stroke="#ff00ff" stroke-width="1.8" fill="none" stroke-linejoin="miter"/>
<line x1="651.00" y1="130.95" x2="664.90" y2="130.95" stroke="#000" stroke-width="1.3" stroke-linecap="butt"/>
<line x1="651.45" y1="130.30" x2="651.45" y2="135.00" stroke="#000" stroke-width="0.9" stroke-linecap="butt"/>
<line x1="658.00" y1="130.30" x2="658.00" y2="364.60" stroke="#000" stroke-width="1.7" stroke-linecap="butt"/>
<line x1="664.45" y1="130.30" x2="664.45" y2="364.60" stroke="#000" stroke-width="1.0" stroke-linecap="butt"/>
<line x1="657.20" y1="364.60" x2="664.90" y2="364.60" stroke="#000" stroke-width="1.0" stroke-linecap="butt"/>
<polygon points="657.20,364.6 664.60,364.6 658.60,371" fill="#808080"/>
<polygon points="650.60,383.6 658.20,383.6 658.20,390" fill="#808080"/>
<line x1="659.00" y1="370.00" x2="659.00" y2="518.40" stroke="#00ff00" stroke-width="1.4" stroke-linecap="butt"/>
<line x1="660.50" y1="480.70" x2="660.50" y2="518.40" stroke="#ffff00" stroke-width="1.3" stroke-linecap="butt"/>
<rect x="653.6" y="437.7" width="3.7" height="17" rx="1" fill="none" stroke="#888" stroke-width="0.9"/>
<line x1="653.50" y1="458.60" x2="653.50" y2="568.00" stroke="#000" stroke-width="1.05" stroke-linecap="butt"/>
<line x1="657.50" y1="523.60" x2="657.50" y2="554.60" stroke="#333" stroke-width="1.05" stroke-linecap="butt"/>
<line x1="660.50" y1="523.60" x2="660.50" y2="554.60" stroke="#333" stroke-width="1.05" stroke-linecap="butt"/>
<line x1="658.50" y1="545.00" x2="658.50" y2="568.70" stroke="#333" stroke-width="1.05" stroke-linecap="butt"/>
<line x1="649.50" y1="93.70" x2="649.50" y2="131.00" stroke="#000" stroke-width="1.05" stroke-linecap="butt"/>
<line x1="664.50" y1="93.70" x2="664.50" y2="126.60" stroke="#000" stroke-width="1.05" stroke-linecap="butt"/>
<line x1="635.50" y1="98.50" x2="678.00" y2="98.50" stroke="#000" stroke-width="1.05" stroke-linecap="butt"/>
<polygon points="650.40,98.50 641.90,96.80 642.15,98.50 641.90,100.20" fill="#000"/>
<polygon points="663.50,98.50 672.00,96.80 671.75,98.50 672.00,100.20" fill="#000"/>
<text x="679.00" y="102.70" font-family="Liberation Serif, serif" font-size="12.4" fill="#000" text-anchor="start" textLength="30" lengthAdjust="spacingAndGlyphs">1.6±0.1</text>
<text x="0" y="0" font-family="Liberation Serif, serif" font-size="12.4" text-anchor="middle" textLength="60.5" lengthAdjust="spacingAndGlyphs" transform="translate(631.40 157.75) rotate(90) translate(0 3.3)">Remove Tape</text>
<text x="0" y="0" font-family="Liberation Serif, serif" font-size="12.4" text-anchor="middle" textLength="68.5" lengthAdjust="spacingAndGlyphs" transform="translate(618.40 153.05) rotate(90) translate(0 3.3)">t=0.15mm Max</text>
<polyline points="626.50,191.00 626.50,195.00 649.40,200.80" stroke="#000" stroke-width="1" fill="none" stroke-linejoin="miter"/>
<polygon points="649.40,200.50 642.00,198.70 642.22,200.50 642.00,202.30" fill="#000"/>
<text x="0" y="0" font-family="Liberation Serif, serif" font-size="12.4" text-anchor="middle" textLength="39.7" lengthAdjust="spacingAndGlyphs" transform="translate(632.20 250.15) rotate(90) translate(0 3.3)">Polarizer</text>
<text x="0" y="0" font-family="Liberation Serif, serif" font-size="12.4" text-anchor="middle" textLength="39.7" lengthAdjust="spacingAndGlyphs" transform="translate(619.20 250.15) rotate(90) translate(0 3.3)">t=0.2mm</text>
<polyline points="626.50,273.70 626.50,278.00 650.30,284.60" stroke="#000" stroke-width="1" fill="none" stroke-linejoin="miter"/>
<text x="0" y="0" font-family="Liberation Serif, serif" font-size="12.4" text-anchor="middle" textLength="66.8" lengthAdjust="spacingAndGlyphs" transform="translate(633.20 336.00) rotate(90) translate(0 3.3)">Protective Film</text>
<text x="0" y="0" font-family="Liberation Serif, serif" font-size="12.4" text-anchor="middle" textLength="65.1" lengthAdjust="spacingAndGlyphs" transform="translate(620.20 336.85) rotate(90) translate(0 3.3)">25x6.7x0.1mm</text>
<polyline points="627.50,374.60 627.50,378.00 651.20,384.60" stroke="#000" stroke-width="1" fill="none" stroke-linejoin="miter"/>
<path d="M662,367.8 L669.8,367.8 Q671.8,368 672.8,369.8" stroke="#000" stroke-width="1" fill="none"/>
<polygon points="660.30,367.50 667.30,366.00 667.09,367.50 667.30,369.00" fill="#000"/>
<path d="M660,387.2 L666.5,387.2 Q668.5,387 669,385.2" stroke="#000" stroke-width="1" fill="none"/>
<polygon points="658.20,387.50 665.20,386.00 664.99,387.50 665.20,389.00" fill="#000"/>
<text x="0" y="0" font-family="Liberation Serif, serif" font-size="12.4" text-anchor="middle" textLength="20.8" lengthAdjust="spacingAndGlyphs" transform="translate(678.60 377.20) rotate(90) translate(0 3.3)">Glue</text>
<text x="0" y="0" font-family="Liberation Serif, serif" font-size="12.4" text-anchor="middle" textLength="73.0" lengthAdjust="spacingAndGlyphs" transform="translate(689.50 436.50) rotate(90) translate(0 3.3)">4±0.5 (Stiffener)</text>
<line x1="665.00" y1="480.50" x2="692.40" y2="480.50" stroke="#000" stroke-width="1.05" stroke-linecap="butt"/>
<line x1="665.00" y1="518.50" x2="692.40" y2="518.50" stroke="#000" stroke-width="1.05" stroke-linecap="butt"/>
<line x1="689.50" y1="473.00" x2="689.50" y2="518.40" stroke="#000" stroke-width="1.05" stroke-linecap="butt"/>
<polygon points="689.50,479.70 687.80,488.20 689.50,487.94 691.20,488.20" fill="#000"/>
<polygon points="689.50,519.40 687.80,510.90 689.50,511.15 691.20,510.90" fill="#000"/>
<text x="0" y="0" font-family="Liberation Serif, serif" font-size="12.4" text-anchor="middle" textLength="56.0" lengthAdjust="spacingAndGlyphs" transform="translate(634.00 463.00) rotate(90) translate(0 3.3)">Contact Side</text>
<polyline points="635.50,492.00 635.50,497.60 657.30,504.00" stroke="#000" stroke-width="1" fill="none" stroke-linejoin="miter"/>
<line x1="644.00" y1="550.50" x2="674.00" y2="550.50" stroke="#000" stroke-width="1.05" stroke-linecap="butt"/>
<polygon points="657.80,550.50 650.40,548.70 650.62,550.50 650.40,552.30" fill="#000"/>
<polygon points="660.60,550.50 668.00,548.70 667.78,550.50 668.00,552.30" fill="#000"/>
<text x="675.00" y="554.60" font-family="Liberation Serif, serif" font-size="12.4" fill="#000" text-anchor="start" textLength="38.2" lengthAdjust="spacingAndGlyphs">0.3±0.03</text>
<line x1="639.00" y1="564.50" x2="672.90" y2="564.50" stroke="#000" stroke-width="1.05" stroke-linecap="butt"/>
<polygon points="653.60,564.50 646.20,562.70 646.42,564.50 646.20,566.30" fill="#000"/>
<polygon points="658.70,564.50 666.10,562.70 665.88,564.50 666.10,566.30" fill="#000"/>
<text x="673.00" y="568.20" font-family="Liberation Serif, serif" font-size="12.4" fill="#000" text-anchor="start" textLength="42.8" lengthAdjust="spacingAndGlyphs">0.80 Max</text>
<line x1="743.10" y1="134.80" x2="743.10" y2="211.30" stroke="#00ffff" stroke-width="2.3" stroke-linecap="butt"/>
<line x1="745.10" y1="134.80" x2="745.10" y2="356.90" stroke="#ff00ff" stroke-width="1.8" stroke-linecap="butt"/>
<line x1="745.20" y1="356.90" x2="745.20" y2="364.20" stroke="#555" stroke-width="1" stroke-linecap="butt"/>
<polyline points="745.10,364.20 745.10,384.00 751.50,390.30 751.50,426.00" stroke="#ff00ff" stroke-width="1.8" fill="none" stroke-linejoin="miter"/>
<line x1="745.10" y1="130.95" x2="759.00" y2="130.95" stroke="#000" stroke-width="1.3" stroke-linecap="butt"/>
<line x1="745.55" y1="130.30" x2="745.55" y2="135.00" stroke="#000" stroke-width="0.9" stroke-linecap="butt"/>
<line x1="752.10" y1="130.30" x2="752.10" y2="364.60" stroke="#000" stroke-width="1.7" stroke-linecap="butt"/>
<line x1="758.55" y1="130.30" x2="758.55" y2="364.60" stroke="#000" stroke-width="1.0" stroke-linecap="butt"/>
<line x1="751.30" y1="364.60" x2="759.00" y2="364.60" stroke="#000" stroke-width="1.0" stroke-linecap="butt"/>
<polygon points="751.30,364.6 758.70,364.6 752.70,371" fill="#808080"/>
<polygon points="744.70,383.6 752.30,383.6 752.30,390" fill="#808080"/>
<line x1="743.50" y1="361.00" x2="743.50" y2="503.00" stroke="#000" stroke-width="1.05" stroke-linecap="butt"/>
<path d="M752.3,371 L752.3,460 Q752.3,465.3 755.1,465.3 Q757.9,465.3 757.9,460 L757.9,414.6" stroke="#00ff00" stroke-width="1.7" fill="none"/>
<line x1="755.50" y1="414.60" x2="755.50" y2="452.30" stroke="#ffff00" stroke-width="1.2" stroke-linecap="butt"/>
<rect x="747.3" y="436.7" width="4.5" height="18.3" rx="1" fill="none" stroke="#888" stroke-width="0.9"/>
<line x1="763.00" y1="130.50" x2="806.30" y2="130.50" stroke="#000" stroke-width="1.05" stroke-linecap="butt"/>
<line x1="801.50" y1="130.60" x2="801.50" y2="285.00" stroke="#000" stroke-width="1.05" stroke-linecap="butt"/>
<line x1="801.50" y1="316.00" x2="801.50" y2="465.30" stroke="#000" stroke-width="1.05" stroke-linecap="butt"/>
<polygon points="801.50,129.60 799.80,138.10 801.50,137.84 803.20,138.10" fill="#000"/>
<polygon points="801.50,466.30 799.80,457.80 801.50,458.06 803.20,457.80" fill="#000"/>
<text x="0" y="0" font-family="Liberation Serif, serif" font-size="12.4" text-anchor="middle" textLength="31.0" lengthAdjust="spacingAndGlyphs" transform="translate(801.90 300.50) rotate(90) translate(0 3.3)">(35.6)</text>
<line x1="756.40" y1="383.50" x2="791.60" y2="383.50" stroke="#000" stroke-width="1.05" stroke-linecap="butt"/>
<line x1="763.00" y1="414.50" x2="777.30" y2="414.50" stroke="#000" stroke-width="1.05" stroke-linecap="butt"/>
<line x1="759.00" y1="465.50" x2="806.00" y2="465.50" stroke="#000" stroke-width="1.05" stroke-linecap="butt"/>
<line x1="787.50" y1="383.40" x2="787.50" y2="413.30" stroke="#000" stroke-width="1.05" stroke-linecap="butt"/>
<line x1="787.50" y1="435.40" x2="787.50" y2="465.30" stroke="#000" stroke-width="1.05" stroke-linecap="butt"/>
<polygon points="787.50,382.40 785.80,390.90 787.50,390.64 789.20,390.90" fill="#000"/>
<polygon points="787.50,466.30 785.80,457.80 787.50,458.06 789.20,457.80" fill="#000"/>
<text x="0" y="0" font-family="Liberation Serif, serif" font-size="12.4" text-anchor="middle" textLength="22.1" lengthAdjust="spacingAndGlyphs" transform="translate(787.20 424.35) rotate(90) translate(0 3.3)">(8.7)</text>
<line x1="773.50" y1="414.60" x2="773.50" y2="430.20" stroke="#000" stroke-width="1.05" stroke-linecap="butt"/>
<line x1="773.50" y1="449.70" x2="773.50" y2="465.30" stroke="#000" stroke-width="1.05" stroke-linecap="butt"/>
<polygon points="773.50,413.60 771.80,422.10 773.50,421.85 775.20,422.10" fill="#000"/>
<polygon points="773.50,466.30 771.80,457.80 773.50,458.06 775.20,457.80" fill="#000"/>
<text x="0" y="0" font-family="Liberation Serif, serif" font-size="12.4" text-anchor="middle" textLength="19.5" lengthAdjust="spacingAndGlyphs" transform="translate(773.20 439.95) rotate(90) translate(0 3.3)">(5.4)</text>
<line x1="758.50" y1="466.60" x2="758.50" y2="503.00" stroke="#000" stroke-width="1.05" stroke-linecap="butt"/>
<line x1="729.10" y1="498.50" x2="772.00" y2="498.50" stroke="#000" stroke-width="1.05" stroke-linecap="butt"/>
<polygon points="743.40,498.50 736.00,496.70 736.22,498.50 736.00,500.30" fill="#000"/>
<polygon points="758.50,498.50 765.90,496.70 765.68,498.50 765.90,500.30" fill="#000"/>
<text x="772.00" y="502.10" font-family="Liberation Serif, serif" font-size="12.4" fill="#000" text-anchor="start" textLength="22.2" lengthAdjust="spacingAndGlyphs">(1.6)</text>
<line x1="837.00" y1="134.80" x2="837.00" y2="211.30" stroke="#00ffff" stroke-width="2.3" stroke-linecap="butt"/>
<line x1="839.00" y1="134.80" x2="839.00" y2="356.90" stroke="#ff00ff" stroke-width="1.8" stroke-linecap="butt"/>
<line x1="839.10" y1="356.90" x2="839.10" y2="364.20" stroke="#555" stroke-width="1" stroke-linecap="butt"/>
<line x1="839.00" y1="130.95" x2="852.90" y2="130.95" stroke="#000" stroke-width="1.3" stroke-linecap="butt"/>
<line x1="839.45" y1="130.30" x2="839.45" y2="135.00" stroke="#000" stroke-width="0.9" stroke-linecap="butt"/>
<line x1="846.00" y1="130.30" x2="846.00" y2="364.60" stroke="#000" stroke-width="1.7" stroke-linecap="butt"/>
<line x1="852.45" y1="130.30" x2="852.45" y2="364.60" stroke="#000" stroke-width="1.0" stroke-linecap="butt"/>
<line x1="845.20" y1="364.60" x2="852.90" y2="364.60" stroke="#000" stroke-width="1.0" stroke-linecap="butt"/>
<polygon points="845.20,364.6 852.60,364.6 846.60,371" fill="#808080"/>
<polygon points="838.60,383.6 846.20,383.6 846.20,390" fill="#808080"/>
<line x1="837.50" y1="361.00" x2="837.50" y2="432.50" stroke="#000" stroke-width="1.05" stroke-linecap="butt"/>
<path d="M839.0,364.2 L839.0,384 L845.3,390.3 L845.3,392 Q845.3,398.6 851,398.6 L853,398.6 Q858.9,398.6 858.9,392 L858.9,377.8" stroke="#ff00ff" stroke-width="1.8" fill="none"/>
<path d="M846.6,370.4 L846.6,391.5 Q846.6,396.6 851,396.6 L853,396.6 Q857.6,396.6 857.6,391.5 L857.6,284.7" stroke="#00ff00" stroke-width="1.6" fill="none"/>
<line x1="857.50" y1="284.70" x2="857.50" y2="321.20" stroke="#ffff00" stroke-width="1.3" stroke-linecap="butt"/>
<rect x="858.4" y="347" width="4.2" height="18.3" rx="1" fill="none" stroke="#888" stroke-width="0.9"/>
<line x1="857.30" y1="130.50" x2="923.70" y2="130.50" stroke="#000" stroke-width="1.1" stroke-linecap="butt"/>
<line x1="857.30" y1="131.00" x2="895.50" y2="131.00" stroke="#000" stroke-width="1.8" stroke-linecap="butt"/>
<line x1="862.60" y1="284.50" x2="880.80" y2="284.50" stroke="#000" stroke-width="1.05" stroke-linecap="butt"/>
<line x1="867.00" y1="356.50" x2="894.50" y2="356.50" stroke="#000" stroke-width="1.05" stroke-linecap="butt"/>
<line x1="850.40" y1="384.50" x2="909.70" y2="384.50" stroke="#000" stroke-width="1.05" stroke-linecap="butt"/>
<line x1="858.90" y1="398.50" x2="923.30" y2="398.50" stroke="#000" stroke-width="1.05" stroke-linecap="butt"/>
<line x1="876.50" y1="130.60" x2="876.50" y2="193.00" stroke="#000" stroke-width="1.05" stroke-linecap="butt"/>
<line x1="876.50" y1="220.00" x2="876.50" y2="284.70" stroke="#000" stroke-width="1.05" stroke-linecap="butt"/>
<polygon points="876.50,129.60 874.80,138.10 876.50,137.84 878.20,138.10" fill="#000"/>
<polygon points="876.50,285.70 874.80,277.20 876.50,277.45 878.20,277.20" fill="#000"/>
<text x="0" y="0" font-family="Liberation Serif, serif" font-size="12.4" text-anchor="middle" textLength="27.0" lengthAdjust="spacingAndGlyphs" transform="translate(877.20 206.50) rotate(90) translate(0 3.3)">(16.3)</text>
<line x1="890.50" y1="130.60" x2="890.50" y2="228.00" stroke="#000" stroke-width="1.05" stroke-linecap="butt"/>
<line x1="890.50" y1="259.00" x2="890.50" y2="356.10" stroke="#000" stroke-width="1.05" stroke-linecap="butt"/>
<polygon points="890.50,129.60 888.80,138.10 890.50,137.84 892.20,138.10" fill="#000"/>
<polygon points="890.50,357.10 888.80,348.60 890.50,348.86 892.20,348.60" fill="#000"/>
<text x="0" y="0" font-family="Liberation Serif, serif" font-size="12.4" text-anchor="middle" textLength="31.0" lengthAdjust="spacingAndGlyphs" transform="translate(890.90 243.50) rotate(90) translate(0 3.3)">(24.01)</text>
<line x1="918.50" y1="130.60" x2="918.50" y2="251.30" stroke="#000" stroke-width="1.05" stroke-linecap="butt"/>
<line x1="918.50" y1="277.10" x2="918.50" y2="398.70" stroke="#000" stroke-width="1.05" stroke-linecap="butt"/>
<polygon points="918.50,129.60 916.80,138.10 918.50,137.84 920.20,138.10" fill="#000"/>
<polygon points="918.50,399.70 916.80,391.20 918.50,391.45 920.20,391.20" fill="#000"/>
<text x="0" y="0" font-family="Liberation Serif, serif" font-size="12.4" text-anchor="middle" textLength="25.8" lengthAdjust="spacingAndGlyphs" transform="translate(919.20 264.20) rotate(90) translate(0 3.3)">(28.5)</text>
<line x1="905.50" y1="369.00" x2="905.50" y2="384.10" stroke="#000" stroke-width="1.05" stroke-linecap="butt"/>
<line x1="905.50" y1="398.70" x2="905.50" y2="412.40" stroke="#000" stroke-width="1.05" stroke-linecap="butt"/>
<polygon points="905.50,384.10 903.70,376.70 905.50,376.92 907.30,376.70" fill="#000"/>
<polygon points="905.50,398.70 903.70,406.10 905.50,405.88 907.30,406.10" fill="#000"/>
<text x="0" y="0" font-family="Liberation Serif, serif" font-size="12.4" text-anchor="middle" textLength="21.3" lengthAdjust="spacingAndGlyphs" transform="translate(905.40 357.65) rotate(90) translate(0 3.3)">(1.6)</text>
<line x1="905.50" y1="384.10" x2="905.50" y2="398.70" stroke="#000" stroke-width="1.05" stroke-linecap="butt"/>
<line x1="858.50" y1="398.70" x2="858.50" y2="432.50" stroke="#000" stroke-width="1.05" stroke-linecap="butt"/>
<line x1="835.50" y1="427.50" x2="865.60" y2="427.50" stroke="#000" stroke-width="1.05" stroke-linecap="butt"/>
<polygon points="837.60,427.50 845.00,425.70 844.78,427.50 845.00,429.30" fill="#000"/>
<polygon points="858.90,427.50 851.50,425.70 851.72,427.50 851.50,429.30" fill="#000"/>
<text x="865.60" y="431.20" font-family="Liberation Serif, serif" font-size="12.4" fill="#000" text-anchor="start" textLength="21.3" lengthAdjust="spacingAndGlyphs">(2.3)</text>
<text x="852.50" y="559.50" font-family="Liberation Serif, serif" font-size="14" fill="#000" text-anchor="middle" textLength="169" lengthAdjust="spacingAndGlyphs">(Reference Mechnical Design)</text>
<rect x="1003.8" y="131.2" width="150.8" height="113.2" fill="none" stroke="#0000ff" stroke-width="1.2"/>
<rect x="1004.30" y="131.70" width="2.00" height="8.10" fill="none" stroke="#ff0000" stroke-width="1"/>
<rect x="1007.35" y="131.70" width="2.00" height="8.10" fill="none" stroke="#00ff00" stroke-width="1"/>
<rect x="1010.40" y="131.70" width="2.00" height="8.10" fill="none" stroke="#0000ff" stroke-width="1"/>
<rect x="1013.45" y="131.70" width="2.00" height="8.10" fill="none" stroke="#ff0000" stroke-width="1"/>
<rect x="1016.50" y="131.70" width="2.00" height="8.10" fill="none" stroke="#00ff00" stroke-width="1"/>
<rect x="1019.55" y="131.70" width="2.00" height="8.10" fill="none" stroke="#0000ff" stroke-width="1"/>
<rect x="1004.30" y="140.80" width="2.00" height="8.10" fill="none" stroke="#ff0000" stroke-width="1"/>
<rect x="1007.35" y="140.80" width="2.00" height="8.10" fill="none" stroke="#00ff00" stroke-width="1"/>
<rect x="1010.40" y="140.80" width="2.00" height="8.10" fill="none" stroke="#0000ff" stroke-width="1"/>
<rect x="1136.90" y="131.70" width="2.00" height="8.10" fill="none" stroke="#ff0000" stroke-width="1"/>
<rect x="1139.95" y="131.70" width="2.00" height="8.10" fill="none" stroke="#00ff00" stroke-width="1"/>
<rect x="1143.00" y="131.70" width="2.00" height="8.10" fill="none" stroke="#0000ff" stroke-width="1"/>
<rect x="1146.05" y="131.70" width="2.00" height="8.10" fill="none" stroke="#ff0000" stroke-width="1"/>
<rect x="1149.10" y="131.70" width="2.00" height="8.10" fill="none" stroke="#00ff00" stroke-width="1"/>
<rect x="1152.15" y="131.70" width="2.00" height="8.10" fill="none" stroke="#0000ff" stroke-width="1"/>
<rect x="1146.50" y="140.80" width="2.00" height="8.10" fill="none" stroke="#ff0000" stroke-width="1"/>
<rect x="1149.55" y="140.80" width="2.00" height="8.10" fill="none" stroke="#00ff00" stroke-width="1"/>
<rect x="1152.60" y="140.80" width="2.00" height="8.10" fill="none" stroke="#0000ff" stroke-width="1"/>
<rect x="1004.30" y="226.70" width="2.00" height="8.10" fill="none" stroke="#ff0000" stroke-width="1"/>
<rect x="1007.35" y="226.70" width="2.00" height="8.10" fill="none" stroke="#00ff00" stroke-width="1"/>
<rect x="1010.40" y="226.70" width="2.00" height="8.10" fill="none" stroke="#0000ff" stroke-width="1"/>
<rect x="1004.30" y="235.80" width="2.00" height="8.10" fill="none" stroke="#ff0000" stroke-width="1"/>
<rect x="1007.35" y="235.80" width="2.00" height="8.10" fill="none" stroke="#00ff00" stroke-width="1"/>
<rect x="1010.40" y="235.80" width="2.00" height="8.10" fill="none" stroke="#0000ff" stroke-width="1"/>
<rect x="1013.45" y="235.80" width="2.00" height="8.10" fill="none" stroke="#ff0000" stroke-width="1"/>
<rect x="1016.50" y="235.80" width="2.00" height="8.10" fill="none" stroke="#00ff00" stroke-width="1"/>
<rect x="1019.55" y="235.80" width="2.00" height="8.10" fill="none" stroke="#0000ff" stroke-width="1"/>
<rect x="1146.50" y="226.70" width="2.00" height="8.10" fill="none" stroke="#ff0000" stroke-width="1"/>
<rect x="1149.55" y="226.70" width="2.00" height="8.10" fill="none" stroke="#00ff00" stroke-width="1"/>
<rect x="1152.60" y="226.70" width="2.00" height="8.10" fill="none" stroke="#0000ff" stroke-width="1"/>
<rect x="1136.90" y="235.80" width="2.00" height="8.10" fill="none" stroke="#ff0000" stroke-width="1"/>
<rect x="1139.95" y="235.80" width="2.00" height="8.10" fill="none" stroke="#00ff00" stroke-width="1"/>
<rect x="1143.00" y="235.80" width="2.00" height="8.10" fill="none" stroke="#0000ff" stroke-width="1"/>
<rect x="1146.05" y="235.80" width="2.00" height="8.10" fill="none" stroke="#ff0000" stroke-width="1"/>
<rect x="1149.10" y="235.80" width="2.00" height="8.10" fill="none" stroke="#00ff00" stroke-width="1"/>
<rect x="1152.15" y="235.80" width="2.00" height="8.10" fill="none" stroke="#0000ff" stroke-width="1"/>
<polyline points="1003.80,144.50 989.50,144.50 989.50,340.60 998.20,348.40" stroke="#0000ff" stroke-width="1.2" fill="none" stroke-linejoin="miter"/>
<polygon points="1004.80,144.50 998.80,142.90 998.98,144.50 998.80,146.10" fill="#0000ff"/>
<polyline points="1003.80,239.50 994.50,239.50 994.50,312.90 1002.50,319.80" stroke="#0000ff" stroke-width="1.2" fill="none" stroke-linejoin="miter"/>
<polygon points="1004.80,239.50 998.80,237.90 998.98,239.50 998.80,241.10" fill="#0000ff"/>
<polyline points="1004.30,244.60 1017.00,290.30 1019.00,290.60" stroke="#0000ff" stroke-width="1.1" fill="none" stroke-linejoin="miter"/>
<polygon points="1004.3,244.6 1003.9,252 1007.2,251" fill="#0000ff"/>
<polyline points="1154.60,135.50 1169.50,135.50 1169.50,332.00 1160.40,338.50" stroke="#0000ff" stroke-width="1.2" fill="none" stroke-linejoin="miter"/>
<polygon points="1153.60,135.50 1159.60,133.90 1159.42,135.50 1159.60,137.10" fill="#0000ff"/>
<polyline points="1154.60,230.50 1164.50,230.50 1164.50,304.20 1156.00,310.30" stroke="#0000ff" stroke-width="1.2" fill="none" stroke-linejoin="miter"/>
<polygon points="1153.60,230.50 1159.60,228.90 1159.42,230.50 1159.60,232.10" fill="#0000ff"/>
<polyline points="1153.60,244.60 1148.30,262.50 1146.30,262.50" stroke="#0000ff" stroke-width="1.1" fill="none" stroke-linejoin="miter"/>
<polygon points="1153.8,244.6 1150.5,251 1153.6,252" fill="#0000ff"/>
<text x="1080.30" y="260.00" font-family="Liberation Serif, serif" font-size="11.5" fill="#0000ff" text-anchor="start" textLength="63.7" lengthAdjust="spacingAndGlyphs">Segment C127</text>
<text x="1091.00" y="270.40" font-family="Liberation Serif, serif" font-size="9" fill="#0000ff" text-anchor="start" textLength="53.8" lengthAdjust="spacingAndGlyphs" font-style="italic" font-weight="bold">( Column 384 )</text>
<text x="1019.50" y="286.80" font-family="Liberation Serif, serif" font-size="11.5" fill="#0000ff" text-anchor="start" textLength="54.2" lengthAdjust="spacingAndGlyphs">Segment A0</text>
<text x="1019.00" y="298.10" font-family="Liberation Serif, serif" font-size="9" fill="#0000ff" text-anchor="start" textLength="46" lengthAdjust="spacingAndGlyphs" font-style="italic" font-weight="bold">( Column 1 )</text>
<text x="1003.00" y="317.20" font-family="Liberation Serif, serif" font-size="11.5" fill="#0000ff" text-anchor="start" textLength="49.5" lengthAdjust="spacingAndGlyphs">Common 0</text>
<text x="1003.00" y="328.50" font-family="Liberation Serif, serif" font-size="9" fill="#0000ff" text-anchor="start" textLength="38" lengthAdjust="spacingAndGlyphs" font-style="italic" font-weight="bold">( Row 96 )</text>
<text x="999.00" y="345.00" font-family="Liberation Serif, serif" font-size="11.5" fill="#0000ff" text-anchor="start" textLength="54.7" lengthAdjust="spacingAndGlyphs">Common 47</text>
<text x="999.00" y="355.90" font-family="Liberation Serif, serif" font-size="9" fill="#0000ff" text-anchor="start" textLength="33" lengthAdjust="spacingAndGlyphs" font-style="italic" font-weight="bold">( Row 2 )</text>
<text x="1099.30" y="308.00" font-family="Liberation Serif, serif" font-size="11.5" fill="#0000ff" text-anchor="start" textLength="54.2" lengthAdjust="spacingAndGlyphs">Common 64</text>
<text x="1117.00" y="319.00" font-family="Liberation Serif, serif" font-size="9" fill="#0000ff" text-anchor="start" textLength="37.3" lengthAdjust="spacingAndGlyphs" font-style="italic" font-weight="bold">( Row 95 )</text>
<text x="1099.30" y="335.70" font-family="Liberation Serif, serif" font-size="11.5" fill="#0000ff" text-anchor="start" textLength="59.4" lengthAdjust="spacingAndGlyphs">Common 111</text>
<text x="1126.60" y="346.70" font-family="Liberation Serif, serif" font-size="9" fill="#0000ff" text-anchor="start" textLength="32.1" lengthAdjust="spacingAndGlyphs" font-style="italic" font-weight="bold">( Row 1 )</text>
<g clip-path="url(#detclip)">
<rect x="1050.80" y="518.70" width="4.2" height="16.8" fill="none" stroke="#ff0000" stroke-width="1"/>
<rect x="1057.10" y="518.70" width="4.2" height="16.8" fill="none" stroke="#00ff00" stroke-width="1"/>
<rect x="1063.40" y="518.70" width="4.2" height="16.8" fill="none" stroke="#0000ff" stroke-width="1"/>
<rect x="1069.70" y="518.70" width="4.2" height="16.8" fill="none" stroke="#ff0000" stroke-width="1"/>
<rect x="1076.00" y="518.70" width="4.2" height="16.8" fill="none" stroke="#00ff00" stroke-width="1"/>
<rect x="1082.30" y="518.70" width="4.2" height="16.8" fill="none" stroke="#0000ff" stroke-width="1"/>
<rect x="1088.60" y="518.70" width="4.2" height="16.8" fill="none" stroke="#ff0000" stroke-width="1"/>
<rect x="1094.90" y="518.70" width="4.2" height="16.8" fill="none" stroke="#00ff00" stroke-width="1"/>
<rect x="1101.20" y="518.70" width="4.2" height="16.8" fill="none" stroke="#0000ff" stroke-width="1"/>
<rect x="1107.50" y="518.70" width="4.2" height="16.8" fill="none" stroke="#ff0000" stroke-width="1"/>
<rect x="1113.80" y="518.70" width="4.2" height="16.8" fill="none" stroke="#00ff00" stroke-width="1"/>
<rect x="1120.10" y="518.70" width="4.2" height="16.8" fill="none" stroke="#0000ff" stroke-width="1"/>
<rect x="1050.80" y="537.70" width="4.2" height="16.8" fill="none" stroke="#ff0000" stroke-width="1"/>
<rect x="1057.10" y="537.70" width="4.2" height="16.8" fill="none" stroke="#00ff00" stroke-width="1"/>
<rect x="1063.40" y="537.70" width="4.2" height="16.8" fill="none" stroke="#0000ff" stroke-width="1"/>
<rect x="1069.70" y="537.70" width="4.2" height="16.8" fill="none" stroke="#ff0000" stroke-width="1"/>
<rect x="1076.00" y="537.70" width="4.2" height="16.8" fill="none" stroke="#00ff00" stroke-width="1"/>
<rect x="1082.30" y="537.70" width="4.2" height="16.8" fill="none" stroke="#0000ff" stroke-width="1"/>
<rect x="1088.60" y="537.70" width="4.2" height="16.8" fill="none" stroke="#ff0000" stroke-width="1"/>
<rect x="1094.90" y="537.70" width="4.2" height="16.8" fill="none" stroke="#00ff00" stroke-width="1"/>
<rect x="1101.20" y="537.70" width="4.2" height="16.8" fill="none" stroke="#0000ff" stroke-width="1"/>
<rect x="1107.50" y="537.70" width="4.2" height="16.8" fill="none" stroke="#ff0000" stroke-width="1"/>
<rect x="1113.80" y="537.70" width="4.2" height="16.8" fill="none" stroke="#00ff00" stroke-width="1"/>
<rect x="1120.10" y="537.70" width="4.2" height="16.8" fill="none" stroke="#0000ff" stroke-width="1"/>
<rect x="1050.80" y="556.70" width="4.2" height="16.8" fill="none" stroke="#ff0000" stroke-width="1"/>
<rect x="1057.10" y="556.70" width="4.2" height="16.8" fill="none" stroke="#00ff00" stroke-width="1"/>
<rect x="1063.40" y="556.70" width="4.2" height="16.8" fill="none" stroke="#0000ff" stroke-width="1"/>
<rect x="1069.70" y="556.70" width="4.2" height="16.8" fill="none" stroke="#ff0000" stroke-width="1"/>
<rect x="1076.00" y="556.70" width="4.2" height="16.8" fill="none" stroke="#00ff00" stroke-width="1"/>
<rect x="1082.30" y="556.70" width="4.2" height="16.8" fill="none" stroke="#0000ff" stroke-width="1"/>
<rect x="1088.60" y="556.70" width="4.2" height="16.8" fill="none" stroke="#ff0000" stroke-width="1"/>
<rect x="1094.90" y="556.70" width="4.2" height="16.8" fill="none" stroke="#00ff00" stroke-width="1"/>
<rect x="1101.20" y="556.70" width="4.2" height="16.8" fill="none" stroke="#0000ff" stroke-width="1"/>
<rect x="1107.50" y="556.70" width="4.2" height="16.8" fill="none" stroke="#ff0000" stroke-width="1"/>
<rect x="1113.80" y="556.70" width="4.2" height="16.8" fill="none" stroke="#00ff00" stroke-width="1"/>
<rect x="1120.10" y="556.70" width="4.2" height="16.8" fill="none" stroke="#0000ff" stroke-width="1"/>
<rect x="1050.80" y="575.70" width="4.2" height="16.8" fill="none" stroke="#ff0000" stroke-width="1"/>
<rect x="1057.10" y="575.70" width="4.2" height="16.8" fill="none" stroke="#00ff00" stroke-width="1"/>
<rect x="1063.40" y="575.70" width="4.2" height="16.8" fill="none" stroke="#0000ff" stroke-width="1"/>
<rect x="1069.70" y="575.70" width="4.2" height="16.8" fill="none" stroke="#ff0000" stroke-width="1"/>
<rect x="1076.00" y="575.70" width="4.2" height="16.8" fill="none" stroke="#00ff00" stroke-width="1"/>
<rect x="1082.30" y="575.70" width="4.2" height="16.8" fill="none" stroke="#0000ff" stroke-width="1"/>
<rect x="1088.60" y="575.70" width="4.2" height="16.8" fill="none" stroke="#ff0000" stroke-width="1"/>
<rect x="1094.90" y="575.70" width="4.2" height="16.8" fill="none" stroke="#00ff00" stroke-width="1"/>
<rect x="1101.20" y="575.70" width="4.2" height="16.8" fill="none" stroke="#0000ff" stroke-width="1"/>
<rect x="1107.50" y="575.70" width="4.2" height="16.8" fill="none" stroke="#ff0000" stroke-width="1"/>
<rect x="1113.80" y="575.70" width="4.2" height="16.8" fill="none" stroke="#00ff00" stroke-width="1"/>
<rect x="1120.10" y="575.70" width="4.2" height="16.8" fill="none" stroke="#0000ff" stroke-width="1"/>
</g>
<circle cx="1078.4" cy="546.0" r="42.2" fill="none" stroke="#000" stroke-width="1.1"/>
<line x1="1050.50" y1="442.30" x2="1050.50" y2="518.00" stroke="#000" stroke-width="1.05" stroke-linecap="butt"/>
<line x1="1055.50" y1="484.20" x2="1055.50" y2="518.00" stroke="#555" stroke-width="1.05" stroke-linecap="butt"/>
<line x1="1057.50" y1="470.50" x2="1057.50" y2="518.00" stroke="#555" stroke-width="1.05" stroke-linecap="butt"/>
<line x1="1067.50" y1="456.00" x2="1067.50" y2="518.00" stroke="#333" stroke-width="1.05" stroke-linecap="butt"/>
<line x1="1069.50" y1="442.30" x2="1069.50" y2="518.00" stroke="#000" stroke-width="1.05" stroke-linecap="butt"/>
<text x="1030.70" y="451.00" font-family="Liberation Serif, serif" font-size="12.4" fill="#000" text-anchor="middle" textLength="23.8" lengthAdjust="spacingAndGlyphs">0.201</text>
<line x1="1043.50" y1="446.50" x2="1072.00" y2="446.50" stroke="#000" stroke-width="1.05" stroke-linecap="butt"/>
<polygon points="1050.60,446.50 1058.10,444.80 1057.88,446.50 1058.10,448.20" fill="#000"/>
<polygon points="1069.40,446.50 1061.90,444.80 1062.12,446.50 1061.90,448.20" fill="#000"/>
<text x="1030.70" y="465.00" font-family="Liberation Serif, serif" font-size="12.4" fill="#000" text-anchor="middle" textLength="23.8" lengthAdjust="spacingAndGlyphs">0.181</text>
<line x1="1043.50" y1="460.50" x2="1070.00" y2="460.50" stroke="#000" stroke-width="1.05" stroke-linecap="butt"/>
<polygon points="1050.60,460.50 1058.10,458.80 1057.88,460.50 1058.10,462.20" fill="#000"/>
<polygon points="1067.60,460.50 1060.10,458.80 1060.32,460.50 1060.10,462.20" fill="#000"/>
<text x="1023.10" y="479.20" font-family="Liberation Serif, serif" font-size="12.4" fill="#000" text-anchor="middle" textLength="24.6" lengthAdjust="spacingAndGlyphs">0.067</text>
<line x1="1036.50" y1="474.50" x2="1071.00" y2="474.50" stroke="#000" stroke-width="1.05" stroke-linecap="butt"/>
<polygon points="1050.60,474.50 1043.10,472.80 1043.32,474.50 1043.10,476.20" fill="#000"/>
<polygon points="1057.10,474.50 1064.60,472.80 1064.38,474.50 1064.60,476.20" fill="#000"/>
<text x="1023.10" y="493.40" font-family="Liberation Serif, serif" font-size="12.4" fill="#000" text-anchor="middle" textLength="24.6" lengthAdjust="spacingAndGlyphs">0.047</text>
<line x1="1036.50" y1="489.50" x2="1071.00" y2="489.50" stroke="#000" stroke-width="1.05" stroke-linecap="butt"/>
<polygon points="1050.60,489.50 1043.10,487.80 1043.32,489.50 1043.10,491.20" fill="#000"/>
<polygon points="1055.30,489.50 1062.80,487.80 1062.58,489.50 1062.80,491.20" fill="#000"/>
<line x1="1003.60" y1="518.50" x2="1047.70" y2="518.50" stroke="#000" stroke-width="1.05" stroke-linecap="butt"/>
<line x1="1003.60" y1="537.50" x2="1046.00" y2="537.50" stroke="#000" stroke-width="1.05" stroke-linecap="butt"/>
<line x1="1018.00" y1="536.20" x2="1046.00" y2="536.20" stroke="#777" stroke-width="1.6" stroke-linecap="butt"/>
<line x1="1008.50" y1="518.20" x2="1008.50" y2="544.20" stroke="#000" stroke-width="1.05" stroke-linecap="butt"/>
<polygon points="1008.50,517.20 1006.60,525.70 1008.50,525.45 1010.40,525.70" fill="#000"/>
<polygon points="1008.50,538.00 1006.60,529.50 1008.50,529.75 1010.40,529.50" fill="#000"/>
<line x1="1022.50" y1="518.20" x2="1022.50" y2="544.20" stroke="#000" stroke-width="1.05" stroke-linecap="butt"/>
<polygon points="1022.50,517.20 1020.60,525.70 1022.50,525.45 1024.40,525.70" fill="#000"/>
<polygon points="1022.50,538.00 1020.60,529.50 1022.50,529.75 1024.40,529.50" fill="#000"/>
<text x="0" y="0" font-family="Liberation Serif, serif" font-size="12.4" text-anchor="middle" textLength="23.4" lengthAdjust="spacingAndGlyphs" transform="translate(1008.60 555.90) rotate(90) translate(0 3.3)">0.201</text>
<text x="0" y="0" font-family="Liberation Serif, serif" font-size="12.4" text-anchor="middle" textLength="23.4" lengthAdjust="spacingAndGlyphs" transform="translate(1022.50 555.90) rotate(90) translate(0 3.3)">0.185</text>
<text x="1050.30" y="602.20" font-family="Liberation Serif, serif" font-size="12.4" fill="#000" text-anchor="start" textLength="45.9" lengthAdjust="spacingAndGlyphs">Detail &quot;A&quot;</text>
<text x="1050.30" y="613.40" font-family="Liberation Serif, serif" font-size="12.4" fill="#000" text-anchor="start" textLength="53.7" lengthAdjust="spacingAndGlyphs">Scale (10:1)</text>
<rect x="1189.5" y="324.7" width="140.7" height="363.9" fill="none" stroke="#000" stroke-width="1.3"/>
<line x1="1236.50" y1="324.70" x2="1236.50" y2="688.60" stroke="#000" stroke-width="1.1" stroke-linecap="butt"/>
<line x1="1189.50" y1="336.50" x2="1330.20" y2="336.50" stroke="#000" stroke-width="1.3" stroke-linecap="butt"/>
<line x1="1189.50" y1="348.50" x2="1330.20" y2="348.50" stroke="#000" stroke-width="1.3" stroke-linecap="butt"/>
<line x1="1189.50" y1="359.50" x2="1330.20" y2="359.50" stroke="#000" stroke-width="1.3" stroke-linecap="butt"/>
<line x1="1189.50" y1="371.50" x2="1330.20" y2="371.50" stroke="#000" stroke-width="1.3" stroke-linecap="butt"/>
<line x1="1189.50" y1="383.50" x2="1330.20" y2="383.50" stroke="#000" stroke-width="1.3" stroke-linecap="butt"/>
<line x1="1189.50" y1="395.50" x2="1330.20" y2="395.50" stroke="#000" stroke-width="1.3" stroke-linecap="butt"/>
<line x1="1189.50" y1="406.50" x2="1330.20" y2="406.50" stroke="#000" stroke-width="1.3" stroke-linecap="butt"/>
<line x1="1189.50" y1="418.50" x2="1330.20" y2="418.50" stroke="#000" stroke-width="1.3" stroke-linecap="butt"/>
<line x1="1189.50" y1="430.50" x2="1330.20" y2="430.50" stroke="#000" stroke-width="1.3" stroke-linecap="butt"/>
<line x1="1189.50" y1="442.50" x2="1330.20" y2="442.50" stroke="#000" stroke-width="1.3" stroke-linecap="butt"/>
<line x1="1189.50" y1="453.50" x2="1330.20" y2="453.50" stroke="#000" stroke-width="1.3" stroke-linecap="butt"/>
<line x1="1189.50" y1="465.50" x2="1330.20" y2="465.50" stroke="#000" stroke-width="1.3" stroke-linecap="butt"/>
<line x1="1189.50" y1="477.50" x2="1330.20" y2="477.50" stroke="#000" stroke-width="1.3" stroke-linecap="butt"/>
<line x1="1189.50" y1="489.50" x2="1330.20" y2="489.50" stroke="#000" stroke-width="1.3" stroke-linecap="butt"/>
<line x1="1189.50" y1="500.50" x2="1330.20" y2="500.50" stroke="#000" stroke-width="1.3" stroke-linecap="butt"/>
<line x1="1189.50" y1="512.50" x2="1330.20" y2="512.50" stroke="#000" stroke-width="1.3" stroke-linecap="butt"/>
<line x1="1189.50" y1="524.50" x2="1330.20" y2="524.50" stroke="#000" stroke-width="1.3" stroke-linecap="butt"/>
<line x1="1189.50" y1="535.50" x2="1330.20" y2="535.50" stroke="#000" stroke-width="1.3" stroke-linecap="butt"/>
<line x1="1189.50" y1="547.50" x2="1330.20" y2="547.50" stroke="#000" stroke-width="1.3" stroke-linecap="butt"/>
<line x1="1189.50" y1="559.50" x2="1330.20" y2="559.50" stroke="#000" stroke-width="1.3" stroke-linecap="butt"/>
<line x1="1189.50" y1="571.50" x2="1330.20" y2="571.50" stroke="#000" stroke-width="1.3" stroke-linecap="butt"/>
<line x1="1189.50" y1="582.50" x2="1330.20" y2="582.50" stroke="#000" stroke-width="1.3" stroke-linecap="butt"/>
<line x1="1189.50" y1="594.50" x2="1330.20" y2="594.50" stroke="#000" stroke-width="1.3" stroke-linecap="butt"/>
<line x1="1189.50" y1="606.50" x2="1330.20" y2="606.50" stroke="#000" stroke-width="1.3" stroke-linecap="butt"/>
<line x1="1189.50" y1="618.50" x2="1330.20" y2="618.50" stroke="#000" stroke-width="1.3" stroke-linecap="butt"/>
<line x1="1189.50" y1="629.50" x2="1330.20" y2="629.50" stroke="#000" stroke-width="1.3" stroke-linecap="butt"/>
<line x1="1189.50" y1="641.50" x2="1330.20" y2="641.50" stroke="#000" stroke-width="1.3" stroke-linecap="butt"/>
<line x1="1189.50" y1="653.50" x2="1330.20" y2="653.50" stroke="#000" stroke-width="1.3" stroke-linecap="butt"/>
<line x1="1189.50" y1="665.50" x2="1330.20" y2="665.50" stroke="#000" stroke-width="1.3" stroke-linecap="butt"/>
<line x1="1189.50" y1="676.50" x2="1330.20" y2="676.50" stroke="#000" stroke-width="1.3" stroke-linecap="butt"/>
<text x="1212.10" y="333.37" font-family="Liberation Serif, serif" font-size="8.8" fill="#000" text-anchor="middle">Pin</text>
<text x="1212.10" y="333.37" font-family="Liberation Serif, serif" font-size="8.8" fill="none" stroke="#000" stroke-width="0.25" text-anchor="middle">Pin</text>
<text x="1282.75" y="333.37" font-family="Liberation Serif, serif" font-size="8.8" fill="#000" text-anchor="middle">Symbol</text>
<text x="1282.75" y="333.37" font-family="Liberation Serif, serif" font-size="8.8" fill="none" stroke="#000" stroke-width="0.25" text-anchor="middle">Symbol</text>
<text x="1212.10" y="345.11" font-family="Liberation Serif, serif" font-size="8.8" fill="#000" text-anchor="middle">1</text>
<text x="1212.10" y="345.11" font-family="Liberation Serif, serif" font-size="8.8" fill="none" stroke="#000" stroke-width="0.25" text-anchor="middle">1</text>
<text x="1282.75" y="345.11" font-family="Liberation Serif, serif" font-size="8.8" fill="#000" text-anchor="middle">N.C. (GND)</text>
<text x="1282.75" y="345.11" font-family="Liberation Serif, serif" font-size="8.8" fill="none" stroke="#000" stroke-width="0.25" text-anchor="middle">N.C. (GND)</text>
<text x="1212.10" y="356.85" font-family="Liberation Serif, serif" font-size="8.8" fill="#000" text-anchor="middle">2</text>
<text x="1212.10" y="356.85" font-family="Liberation Serif, serif" font-size="8.8" fill="none" stroke="#000" stroke-width="0.25" text-anchor="middle">2</text>
<text x="1282.75" y="356.85" font-family="Liberation Serif, serif" font-size="8.8" fill="#000" text-anchor="middle">VCC</text>
<text x="1282.75" y="356.85" font-family="Liberation Serif, serif" font-size="8.8" fill="none" stroke="#000" stroke-width="0.25" text-anchor="middle">VCC</text>
<text x="1212.10" y="368.59" font-family="Liberation Serif, serif" font-size="8.8" fill="#000" text-anchor="middle">3</text>
<text x="1212.10" y="368.59" font-family="Liberation Serif, serif" font-size="8.8" fill="none" stroke="#000" stroke-width="0.25" text-anchor="middle">3</text>
<text x="1282.75" y="368.59" font-family="Liberation Serif, serif" font-size="8.8" fill="#000" text-anchor="middle">VCOMH</text>
<text x="1282.75" y="368.59" font-family="Liberation Serif, serif" font-size="8.8" fill="none" stroke="#000" stroke-width="0.25" text-anchor="middle">VCOMH</text>
<text x="1212.10" y="380.32" font-family="Liberation Serif, serif" font-size="8.8" fill="#000" text-anchor="middle">4</text>
<text x="1212.10" y="380.32" font-family="Liberation Serif, serif" font-size="8.8" fill="none" stroke="#000" stroke-width="0.25" text-anchor="middle">4</text>
<text x="1282.75" y="380.32" font-family="Liberation Serif, serif" font-size="8.8" fill="#000" text-anchor="middle">VDDIO</text>
<text x="1282.75" y="380.32" font-family="Liberation Serif, serif" font-size="8.8" fill="none" stroke="#000" stroke-width="0.25" text-anchor="middle">VDDIO</text>
<text x="1212.10" y="392.06" font-family="Liberation Serif, serif" font-size="8.8" fill="#000" text-anchor="middle">5</text>
<text x="1212.10" y="392.06" font-family="Liberation Serif, serif" font-size="8.8" fill="none" stroke="#000" stroke-width="0.25" text-anchor="middle">5</text>
<text x="1282.75" y="392.06" font-family="Liberation Serif, serif" font-size="8.8" fill="#000" text-anchor="middle">VSL</text>
<text x="1282.75" y="392.06" font-family="Liberation Serif, serif" font-size="8.8" fill="none" stroke="#000" stroke-width="0.25" text-anchor="middle">VSL</text>
<text x="1212.10" y="403.80" font-family="Liberation Serif, serif" font-size="8.8" fill="#000" text-anchor="middle">6</text>
<text x="1212.10" y="403.80" font-family="Liberation Serif, serif" font-size="8.8" fill="none" stroke="#000" stroke-width="0.25" text-anchor="middle">6</text>
<text x="1282.75" y="403.80" font-family="Liberation Serif, serif" font-size="8.8" fill="#000" text-anchor="middle">N.C.</text>
<text x="1282.75" y="403.80" font-family="Liberation Serif, serif" font-size="8.8" fill="none" stroke="#000" stroke-width="0.25" text-anchor="middle">N.C.</text>
<text x="1212.10" y="415.54" font-family="Liberation Serif, serif" font-size="8.8" fill="#000" text-anchor="middle">7</text>
<text x="1212.10" y="415.54" font-family="Liberation Serif, serif" font-size="8.8" fill="none" stroke="#000" stroke-width="0.25" text-anchor="middle">7</text>
<text x="1282.75" y="415.54" font-family="Liberation Serif, serif" font-size="8.8" fill="#000" text-anchor="middle">D7</text>
<text x="1282.75" y="415.54" font-family="Liberation Serif, serif" font-size="8.8" fill="none" stroke="#000" stroke-width="0.25" text-anchor="middle">D7</text>
<text x="1212.10" y="427.28" font-family="Liberation Serif, serif" font-size="8.8" fill="#000" text-anchor="middle">8</text>
<text x="1212.10" y="427.28" font-family="Liberation Serif, serif" font-size="8.8" fill="none" stroke="#000" stroke-width="0.25" text-anchor="middle">8</text>
<text x="1282.75" y="427.28" font-family="Liberation Serif, serif" font-size="8.8" fill="#000" text-anchor="middle">D6</text>
<text x="1282.75" y="427.28" font-family="Liberation Serif, serif" font-size="8.8" fill="none" stroke="#000" stroke-width="0.25" text-anchor="middle">D6</text>
<text x="1212.10" y="439.02" font-family="Liberation Serif, serif" font-size="8.8" fill="#000" text-anchor="middle">9</text>
<text x="1212.10" y="439.02" font-family="Liberation Serif, serif" font-size="8.8" fill="none" stroke="#000" stroke-width="0.25" text-anchor="middle">9</text>
<text x="1282.75" y="439.02" font-family="Liberation Serif, serif" font-size="8.8" fill="#000" text-anchor="middle">D5</text>
<text x="1282.75" y="439.02" font-family="Liberation Serif, serif" font-size="8.8" fill="none" stroke="#000" stroke-width="0.25" text-anchor="middle">D5</text>
<text x="1212.10" y="450.76" font-family="Liberation Serif, serif" font-size="8.8" fill="#000" text-anchor="middle">10</text>
<text x="1212.10" y="450.76" font-family="Liberation Serif, serif" font-size="8.8" fill="none" stroke="#000" stroke-width="0.25" text-anchor="middle">10</text>
<text x="1282.75" y="450.76" font-family="Liberation Serif, serif" font-size="8.8" fill="#000" text-anchor="middle">D4</text>
<text x="1282.75" y="450.76" font-family="Liberation Serif, serif" font-size="8.8" fill="none" stroke="#000" stroke-width="0.25" text-anchor="middle">D4</text>
<text x="1212.10" y="462.50" font-family="Liberation Serif, serif" font-size="8.8" fill="#000" text-anchor="middle">11</text>
<text x="1212.10" y="462.50" font-family="Liberation Serif, serif" font-size="8.8" fill="none" stroke="#000" stroke-width="0.25" text-anchor="middle">11</text>
<text x="1282.75" y="462.50" font-family="Liberation Serif, serif" font-size="8.8" fill="#000" text-anchor="middle">D3</text>
<text x="1282.75" y="462.50" font-family="Liberation Serif, serif" font-size="8.8" fill="none" stroke="#000" stroke-width="0.25" text-anchor="middle">D3</text>
<text x="1212.10" y="474.23" font-family="Liberation Serif, serif" font-size="8.8" fill="#000" text-anchor="middle">12</text>
<text x="1212.10" y="474.23" font-family="Liberation Serif, serif" font-size="8.8" fill="none" stroke="#000" stroke-width="0.25" text-anchor="middle">12</text>
<text x="1282.75" y="474.23" font-family="Liberation Serif, serif" font-size="8.8" fill="#000" text-anchor="middle">D2</text>
<text x="1282.75" y="474.23" font-family="Liberation Serif, serif" font-size="8.8" fill="none" stroke="#000" stroke-width="0.25" text-anchor="middle">D2</text>
<text x="1212.10" y="485.97" font-family="Liberation Serif, serif" font-size="8.8" fill="#000" text-anchor="middle">13</text>
<text x="1212.10" y="485.97" font-family="Liberation Serif, serif" font-size="8.8" fill="none" stroke="#000" stroke-width="0.25" text-anchor="middle">13</text>
<text x="1282.75" y="485.97" font-family="Liberation Serif, serif" font-size="8.8" fill="#000" text-anchor="middle">D1</text>
<text x="1282.75" y="485.97" font-family="Liberation Serif, serif" font-size="8.8" fill="none" stroke="#000" stroke-width="0.25" text-anchor="middle">D1</text>
<text x="1212.10" y="497.71" font-family="Liberation Serif, serif" font-size="8.8" fill="#000" text-anchor="middle">14</text>
<text x="1212.10" y="497.71" font-family="Liberation Serif, serif" font-size="8.8" fill="none" stroke="#000" stroke-width="0.25" text-anchor="middle">14</text>
<text x="1282.75" y="497.71" font-family="Liberation Serif, serif" font-size="8.8" fill="#000" text-anchor="middle">D0</text>
<text x="1282.75" y="497.71" font-family="Liberation Serif, serif" font-size="8.8" fill="none" stroke="#000" stroke-width="0.25" text-anchor="middle">D0</text>
<text x="1212.10" y="509.45" font-family="Liberation Serif, serif" font-size="8.8" fill="#000" text-anchor="middle">15</text>
<text x="1212.10" y="509.45" font-family="Liberation Serif, serif" font-size="8.8" fill="none" stroke="#000" stroke-width="0.25" text-anchor="middle">15</text>
<text x="1282.75" y="509.45" font-family="Liberation Serif, serif" font-size="8.8" fill="#000" text-anchor="middle">E/RD#</text>
<text x="1282.75" y="509.45" font-family="Liberation Serif, serif" font-size="8.8" fill="none" stroke="#000" stroke-width="0.25" text-anchor="middle">E/RD#</text>
<text x="1212.10" y="521.19" font-family="Liberation Serif, serif" font-size="8.8" fill="#000" text-anchor="middle">16</text>
<text x="1212.10" y="521.19" font-family="Liberation Serif, serif" font-size="8.8" fill="none" stroke="#000" stroke-width="0.25" text-anchor="middle">16</text>
<text x="1282.75" y="521.19" font-family="Liberation Serif, serif" font-size="8.8" fill="#000" text-anchor="middle">R/W#</text>
<text x="1282.75" y="521.19" font-family="Liberation Serif, serif" font-size="8.8" fill="none" stroke="#000" stroke-width="0.25" text-anchor="middle">R/W#</text>
<text x="1212.10" y="532.93" font-family="Liberation Serif, serif" font-size="8.8" fill="#000" text-anchor="middle">17</text>
<text x="1212.10" y="532.93" font-family="Liberation Serif, serif" font-size="8.8" fill="none" stroke="#000" stroke-width="0.25" text-anchor="middle">17</text>
<text x="1282.75" y="532.93" font-family="Liberation Serif, serif" font-size="8.8" fill="#000" text-anchor="middle">BS0</text>
<text x="1282.75" y="532.93" font-family="Liberation Serif, serif" font-size="8.8" fill="none" stroke="#000" stroke-width="0.25" text-anchor="middle">BS0</text>
<text x="1212.10" y="544.67" font-family="Liberation Serif, serif" font-size="8.8" fill="#000" text-anchor="middle">18</text>
<text x="1212.10" y="544.67" font-family="Liberation Serif, serif" font-size="8.8" fill="none" stroke="#000" stroke-width="0.25" text-anchor="middle">18</text>
<text x="1282.75" y="544.67" font-family="Liberation Serif, serif" font-size="8.8" fill="#000" text-anchor="middle">BS1</text>
<text x="1282.75" y="544.67" font-family="Liberation Serif, serif" font-size="8.8" fill="none" stroke="#000" stroke-width="0.25" text-anchor="middle">BS1</text>
<text x="1212.10" y="556.40" font-family="Liberation Serif, serif" font-size="8.8" fill="#000" text-anchor="middle">19</text>
<text x="1212.10" y="556.40" font-family="Liberation Serif, serif" font-size="8.8" fill="none" stroke="#000" stroke-width="0.25" text-anchor="middle">19</text>
<text x="1282.75" y="556.40" font-family="Liberation Serif, serif" font-size="8.8" fill="#000" text-anchor="middle">CS#</text>
<text x="1282.75" y="556.40" font-family="Liberation Serif, serif" font-size="8.8" fill="none" stroke="#000" stroke-width="0.25" text-anchor="middle">CS#</text>
<text x="1212.10" y="568.14" font-family="Liberation Serif, serif" font-size="8.8" fill="#000" text-anchor="middle">20</text>
<text x="1212.10" y="568.14" font-family="Liberation Serif, serif" font-size="8.8" fill="none" stroke="#000" stroke-width="0.25" text-anchor="middle">20</text>
<text x="1282.75" y="568.14" font-family="Liberation Serif, serif" font-size="8.8" fill="#000" text-anchor="middle">D/C#</text>
<text x="1282.75" y="568.14" font-family="Liberation Serif, serif" font-size="8.8" fill="none" stroke="#000" stroke-width="0.25" text-anchor="middle">D/C#</text>
<text x="1212.10" y="579.88" font-family="Liberation Serif, serif" font-size="8.8" fill="#000" text-anchor="middle">21</text>
<text x="1212.10" y="579.88" font-family="Liberation Serif, serif" font-size="8.8" fill="none" stroke="#000" stroke-width="0.25" text-anchor="middle">21</text>
<text x="1282.75" y="579.88" font-family="Liberation Serif, serif" font-size="8.8" fill="#000" text-anchor="middle">RES#</text>
<text x="1282.75" y="579.88" font-family="Liberation Serif, serif" font-size="8.8" fill="none" stroke="#000" stroke-width="0.25" text-anchor="middle">RES#</text>
<text x="1212.10" y="591.62" font-family="Liberation Serif, serif" font-size="8.8" fill="#000" text-anchor="middle">22</text>
<text x="1212.10" y="591.62" font-family="Liberation Serif, serif" font-size="8.8" fill="none" stroke="#000" stroke-width="0.25" text-anchor="middle">22</text>
<text x="1282.75" y="591.62" font-family="Liberation Serif, serif" font-size="8.8" fill="#000" text-anchor="middle">IREF</text>
<text x="1282.75" y="591.62" font-family="Liberation Serif, serif" font-size="8.8" fill="none" stroke="#000" stroke-width="0.25" text-anchor="middle">IREF</text>
<text x="1212.10" y="603.36" font-family="Liberation Serif, serif" font-size="8.8" fill="#000" text-anchor="middle">23</text>
<text x="1212.10" y="603.36" font-family="Liberation Serif, serif" font-size="8.8" fill="none" stroke="#000" stroke-width="0.25" text-anchor="middle">23</text>
<text x="1282.75" y="603.36" font-family="Liberation Serif, serif" font-size="8.8" fill="#000" text-anchor="middle">GPIO1</text>
<text x="1282.75" y="603.36" font-family="Liberation Serif, serif" font-size="8.8" fill="none" stroke="#000" stroke-width="0.25" text-anchor="middle">GPIO1</text>
<text x="1212.10" y="615.10" font-family="Liberation Serif, serif" font-size="8.8" fill="#000" text-anchor="middle">24</text>
<text x="1212.10" y="615.10" font-family="Liberation Serif, serif" font-size="8.8" fill="none" stroke="#000" stroke-width="0.25" text-anchor="middle">24</text>
<text x="1282.75" y="615.10" font-family="Liberation Serif, serif" font-size="8.8" fill="#000" text-anchor="middle">GPIO0</text>
<text x="1282.75" y="615.10" font-family="Liberation Serif, serif" font-size="8.8" fill="none" stroke="#000" stroke-width="0.25" text-anchor="middle">GPIO0</text>
<text x="1212.10" y="626.84" font-family="Liberation Serif, serif" font-size="8.8" fill="#000" text-anchor="middle">25</text>
<text x="1212.10" y="626.84" font-family="Liberation Serif, serif" font-size="8.8" fill="none" stroke="#000" stroke-width="0.25" text-anchor="middle">25</text>
<text x="1282.75" y="626.84" font-family="Liberation Serif, serif" font-size="8.8" fill="#000" text-anchor="middle">N.C.</text>
<text x="1282.75" y="626.84" font-family="Liberation Serif, serif" font-size="8.8" fill="none" stroke="#000" stroke-width="0.25" text-anchor="middle">N.C.</text>
<text x="1212.10" y="638.58" font-family="Liberation Serif, serif" font-size="8.8" fill="#000" text-anchor="middle">26</text>
<text x="1212.10" y="638.58" font-family="Liberation Serif, serif" font-size="8.8" fill="none" stroke="#000" stroke-width="0.25" text-anchor="middle">26</text>
<text x="1282.75" y="638.58" font-family="Liberation Serif, serif" font-size="8.8" fill="#000" text-anchor="middle">VDD</text>
<text x="1282.75" y="638.58" font-family="Liberation Serif, serif" font-size="8.8" fill="none" stroke="#000" stroke-width="0.25" text-anchor="middle">VDD</text>
<text x="1212.10" y="650.31" font-family="Liberation Serif, serif" font-size="8.8" fill="#000" text-anchor="middle">27</text>
<text x="1212.10" y="650.31" font-family="Liberation Serif, serif" font-size="8.8" fill="none" stroke="#000" stroke-width="0.25" text-anchor="middle">27</text>
<text x="1282.75" y="650.31" font-family="Liberation Serif, serif" font-size="8.8" fill="#000" text-anchor="middle">VCI</text>
<text x="1282.75" y="650.31" font-family="Liberation Serif, serif" font-size="8.8" fill="none" stroke="#000" stroke-width="0.25" text-anchor="middle">VCI</text>
<text x="1212.10" y="662.05" font-family="Liberation Serif, serif" font-size="8.8" fill="#000" text-anchor="middle">28</text>
<text x="1212.10" y="662.05" font-family="Liberation Serif, serif" font-size="8.8" fill="none" stroke="#000" stroke-width="0.25" text-anchor="middle">28</text>
<text x="1282.75" y="662.05" font-family="Liberation Serif, serif" font-size="8.8" fill="#000" text-anchor="middle">VSS</text>
<text x="1282.75" y="662.05" font-family="Liberation Serif, serif" font-size="8.8" fill="none" stroke="#000" stroke-width="0.25" text-anchor="middle">VSS</text>
<text x="1212.10" y="673.79" font-family="Liberation Serif, serif" font-size="8.8" fill="#000" text-anchor="middle">29</text>
<text x="1212.10" y="673.79" font-family="Liberation Serif, serif" font-size="8.8" fill="none" stroke="#000" stroke-width="0.25" text-anchor="middle">29</text>
<text x="1282.75" y="673.79" font-family="Liberation Serif, serif" font-size="8.8" fill="#000" text-anchor="middle">N.C.</text>
<text x="1282.75" y="673.79" font-family="Liberation Serif, serif" font-size="8.8" fill="none" stroke="#000" stroke-width="0.25" text-anchor="middle">N.C.</text>
<text x="1212.10" y="685.53" font-family="Liberation Serif, serif" font-size="8.8" fill="#000" text-anchor="middle">30</text>
<text x="1212.10" y="685.53" font-family="Liberation Serif, serif" font-size="8.8" fill="none" stroke="#000" stroke-width="0.25" text-anchor="middle">30</text>
<text x="1282.75" y="685.53" font-family="Liberation Serif, serif" font-size="8.8" fill="#000" text-anchor="middle">N.C. (GND)</text>
<text x="1282.75" y="685.53" font-family="Liberation Serif, serif" font-size="8.8" fill="none" stroke="#000" stroke-width="0.25" text-anchor="middle">N.C. (GND)</text>
</svg>
</body></html>
